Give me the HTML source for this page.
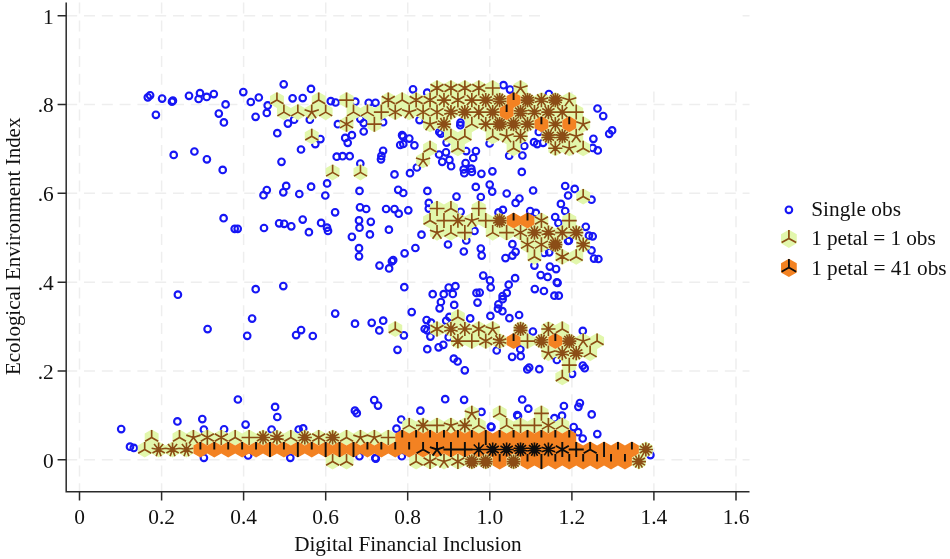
<!DOCTYPE html><html><head><meta charset="utf-8"><title>Sunflower plot</title>
<style>html,body{margin:0;padding:0;background:#fff}svg{display:block}text{font-family:"Liberation Serif",serif;fill:#111}</style></head><body>
<svg width="950" height="559" viewBox="0 0 950 559">
<rect width="950" height="559" fill="#fff"/>
<defs><filter id="soft" x="0" y="0" width="950" height="559" filterUnits="userSpaceOnUse"><feGaussianBlur stdDeviation="0.4"/></filter></defs>
<g filter="url(#soft)">
<path d="M79.5 2.6V491.8M161.6 2.6V491.8M243.6 2.6V491.8M325.7 2.6V491.8M407.7 2.6V491.8M489.8 2.6V491.8M571.9 2.6V491.8M653.9 2.6V491.8M736.0 2.6V491.8M66.2 459.8H749.5M66.2 371.0H749.5M66.2 282.2H749.5M66.2 193.3H749.5M66.2 104.5H749.5M66.2 15.7H749.5" fill="none" stroke="#eeeeee" stroke-width="1.5" stroke-dasharray="11 6.8"/>
<rect x="545" y="0" width="194" height="85" fill="#fff"/>
<g fill="none" stroke="#1414f5" stroke-width="2.1">
<circle cx="402.1" cy="135.2" r="3.3"/>
<circle cx="403.0" cy="136.4" r="3.3"/>
<circle cx="409.3" cy="138.6" r="3.3"/>
<circle cx="400.2" cy="145.0" r="3.3"/>
<circle cx="403.3" cy="144.0" r="3.3"/>
<circle cx="414.4" cy="145.3" r="3.3"/>
<circle cx="439.3" cy="132.0" r="3.3"/>
<circle cx="440.9" cy="133.6" r="3.3"/>
<circle cx="147.8" cy="97.3" r="3.3"/>
<circle cx="150.1" cy="95.3" r="3.3"/>
<circle cx="162.1" cy="98.6" r="3.3"/>
<circle cx="172.0" cy="101.7" r="3.3"/>
<circle cx="172.9" cy="100.7" r="3.3"/>
<circle cx="189.0" cy="95.8" r="3.3"/>
<circle cx="200.0" cy="93.2" r="3.3"/>
<circle cx="198.6" cy="99.0" r="3.3"/>
<circle cx="206.7" cy="96.9" r="3.3"/>
<circle cx="213.8" cy="94.1" r="3.3"/>
<circle cx="225.6" cy="104.4" r="3.3"/>
<circle cx="243.3" cy="92.1" r="3.3"/>
<circle cx="155.9" cy="114.8" r="3.3"/>
<circle cx="218.8" cy="113.6" r="3.3"/>
<circle cx="223.9" cy="122.4" r="3.3"/>
<circle cx="173.7" cy="154.9" r="3.3"/>
<circle cx="194.4" cy="151.5" r="3.3"/>
<circle cx="206.9" cy="159.3" r="3.3"/>
<circle cx="283.7" cy="84.3" r="3.3"/>
<circle cx="311.0" cy="88.9" r="3.3"/>
<circle cx="258.8" cy="97.5" r="3.3"/>
<circle cx="250.8" cy="102.0" r="3.3"/>
<circle cx="267.7" cy="105.4" r="3.3"/>
<circle cx="292.6" cy="98.3" r="3.3"/>
<circle cx="302.7" cy="98.1" r="3.3"/>
<circle cx="266.8" cy="112.9" r="3.3"/>
<circle cx="255.6" cy="116.8" r="3.3"/>
<circle cx="330.8" cy="101.2" r="3.3"/>
<circle cx="335.6" cy="102.5" r="3.3"/>
<circle cx="355.3" cy="101.7" r="3.3"/>
<circle cx="368.7" cy="102.8" r="3.3"/>
<circle cx="375.5" cy="102.8" r="3.3"/>
<circle cx="287.9" cy="123.6" r="3.3"/>
<circle cx="294.1" cy="119.7" r="3.3"/>
<circle cx="309.8" cy="119.7" r="3.3"/>
<circle cx="277.3" cy="133.2" r="3.3"/>
<circle cx="337.9" cy="124.2" r="3.3"/>
<circle cx="360.3" cy="118.8" r="3.3"/>
<circle cx="363.7" cy="123.1" r="3.3"/>
<circle cx="383.1" cy="122.2" r="3.3"/>
<circle cx="363.7" cy="131.5" r="3.3"/>
<circle cx="351.9" cy="135.2" r="3.3"/>
<circle cx="345.2" cy="137.9" r="3.3"/>
<circle cx="347.7" cy="142.8" r="3.3"/>
<circle cx="320.4" cy="139.1" r="3.3"/>
<circle cx="315.3" cy="144.1" r="3.3"/>
<circle cx="301.0" cy="149.5" r="3.3"/>
<circle cx="281.5" cy="161.8" r="3.3"/>
<circle cx="336.7" cy="156.7" r="3.3"/>
<circle cx="342.6" cy="156.2" r="3.3"/>
<circle cx="349.7" cy="156.2" r="3.3"/>
<circle cx="360.3" cy="163.5" r="3.3"/>
<circle cx="383.1" cy="150.8" r="3.3"/>
<circle cx="381.4" cy="155.9" r="3.3"/>
<circle cx="381.0" cy="159.3" r="3.3"/>
<circle cx="419.5" cy="120.1" r="3.3"/>
<circle cx="460.5" cy="122.6" r="3.3"/>
<circle cx="460.3" cy="125.2" r="3.3"/>
<circle cx="446.6" cy="142.6" r="3.3"/>
<circle cx="489.6" cy="143.5" r="3.3"/>
<circle cx="524.3" cy="146.0" r="3.3"/>
<circle cx="466.2" cy="151.1" r="3.3"/>
<circle cx="475.9" cy="151.1" r="3.3"/>
<circle cx="446.0" cy="152.3" r="3.3"/>
<circle cx="439.1" cy="154.5" r="3.3"/>
<circle cx="473.2" cy="158.0" r="3.3"/>
<circle cx="449.4" cy="159.9" r="3.3"/>
<circle cx="442.2" cy="161.8" r="3.3"/>
<circle cx="451.1" cy="166.2" r="3.3"/>
<circle cx="465.6" cy="163.1" r="3.3"/>
<circle cx="463.7" cy="169.4" r="3.3"/>
<circle cx="471.3" cy="168.7" r="3.3"/>
<circle cx="464.3" cy="173.2" r="3.3"/>
<circle cx="471.9" cy="171.9" r="3.3"/>
<circle cx="481.4" cy="173.8" r="3.3"/>
<circle cx="492.4" cy="171.3" r="3.3"/>
<circle cx="509.2" cy="155.7" r="3.3"/>
<circle cx="522.4" cy="155.5" r="3.3"/>
<circle cx="521.8" cy="171.9" r="3.3"/>
<circle cx="416.9" cy="167.5" r="3.3"/>
<circle cx="410.0" cy="173.2" r="3.3"/>
<circle cx="510.0" cy="89.6" r="3.3"/>
<circle cx="548.9" cy="94.0" r="3.3"/>
<circle cx="597.5" cy="108.5" r="3.3"/>
<circle cx="603.2" cy="116.1" r="3.3"/>
<circle cx="612.1" cy="130.4" r="3.3"/>
<circle cx="609.2" cy="133.8" r="3.3"/>
<circle cx="593.4" cy="138.8" r="3.3"/>
<circle cx="538.8" cy="131.9" r="3.3"/>
<circle cx="597.8" cy="150.4" r="3.3"/>
<circle cx="592.7" cy="147.9" r="3.3"/>
<circle cx="534.0" cy="142.2" r="3.3"/>
<circle cx="537.2" cy="144.1" r="3.3"/>
<circle cx="543.1" cy="142.8" r="3.3"/>
<circle cx="413.0" cy="89.3" r="3.3"/>
<circle cx="427.2" cy="92.7" r="3.3"/>
<circle cx="503.5" cy="85.2" r="3.3"/>
<circle cx="222.7" cy="169.9" r="3.3"/>
<circle cx="223.6" cy="218.2" r="3.3"/>
<circle cx="234.7" cy="228.8" r="3.3"/>
<circle cx="237.7" cy="228.8" r="3.3"/>
<circle cx="394.5" cy="174.4" r="3.3"/>
<circle cx="266.8" cy="190.1" r="3.3"/>
<circle cx="263.5" cy="195.2" r="3.3"/>
<circle cx="286.2" cy="185.9" r="3.3"/>
<circle cx="283.3" cy="192.3" r="3.3"/>
<circle cx="299.3" cy="194.0" r="3.3"/>
<circle cx="311.1" cy="186.7" r="3.3"/>
<circle cx="327.1" cy="183.4" r="3.3"/>
<circle cx="325.3" cy="195.5" r="3.3"/>
<circle cx="359.5" cy="190.9" r="3.3"/>
<circle cx="398.2" cy="189.8" r="3.3"/>
<circle cx="403.3" cy="193.0" r="3.3"/>
<circle cx="335.1" cy="212.3" r="3.3"/>
<circle cx="360.0" cy="207.3" r="3.3"/>
<circle cx="366.2" cy="209.0" r="3.3"/>
<circle cx="386.1" cy="209.0" r="3.3"/>
<circle cx="394.5" cy="209.1" r="3.3"/>
<circle cx="398.7" cy="213.7" r="3.3"/>
<circle cx="408.3" cy="210.3" r="3.3"/>
<circle cx="264.0" cy="228.0" r="3.3"/>
<circle cx="279.1" cy="223.3" r="3.3"/>
<circle cx="284.2" cy="223.8" r="3.3"/>
<circle cx="291.3" cy="226.3" r="3.3"/>
<circle cx="302.7" cy="219.6" r="3.3"/>
<circle cx="308.9" cy="232.2" r="3.3"/>
<circle cx="321.1" cy="222.9" r="3.3"/>
<circle cx="327.0" cy="227.7" r="3.3"/>
<circle cx="328.0" cy="230.9" r="3.3"/>
<circle cx="359.0" cy="220.4" r="3.3"/>
<circle cx="359.5" cy="227.7" r="3.3"/>
<circle cx="370.8" cy="221.8" r="3.3"/>
<circle cx="369.9" cy="234.4" r="3.3"/>
<circle cx="388.9" cy="229.7" r="3.3"/>
<circle cx="351.9" cy="236.8" r="3.3"/>
<circle cx="359.0" cy="248.2" r="3.3"/>
<circle cx="359.0" cy="256.3" r="3.3"/>
<circle cx="404.6" cy="253.3" r="3.3"/>
<circle cx="475.8" cy="186.9" r="3.3"/>
<circle cx="489.7" cy="184.6" r="3.3"/>
<circle cx="492.2" cy="191.6" r="3.3"/>
<circle cx="506.7" cy="193.5" r="3.3"/>
<circle cx="480.8" cy="197.0" r="3.3"/>
<circle cx="456.5" cy="196.6" r="3.3"/>
<circle cx="427.4" cy="190.9" r="3.3"/>
<circle cx="428.8" cy="202.9" r="3.3"/>
<circle cx="428.8" cy="208.6" r="3.3"/>
<circle cx="460.6" cy="211.8" r="3.3"/>
<circle cx="502.9" cy="209.9" r="3.3"/>
<circle cx="498.5" cy="212.4" r="3.3"/>
<circle cx="515.6" cy="202.9" r="3.3"/>
<circle cx="519.4" cy="198.5" r="3.3"/>
<circle cx="421.5" cy="234.7" r="3.3"/>
<circle cx="415.4" cy="248.0" r="3.3"/>
<circle cx="448.0" cy="244.5" r="3.3"/>
<circle cx="466.3" cy="240.4" r="3.3"/>
<circle cx="474.5" cy="230.9" r="3.3"/>
<circle cx="463.8" cy="251.5" r="3.3"/>
<circle cx="480.8" cy="248.6" r="3.3"/>
<circle cx="481.7" cy="255.6" r="3.3"/>
<circle cx="505.5" cy="258.1" r="3.3"/>
<circle cx="512.4" cy="244.2" r="3.3"/>
<circle cx="515.6" cy="251.8" r="3.3"/>
<circle cx="512.4" cy="255.6" r="3.3"/>
<circle cx="533.1" cy="190.5" r="3.3"/>
<circle cx="565.2" cy="186.0" r="3.3"/>
<circle cx="574.7" cy="188.9" r="3.3"/>
<circle cx="568.1" cy="195.5" r="3.3"/>
<circle cx="560.9" cy="203.9" r="3.3"/>
<circle cx="565.2" cy="211.1" r="3.3"/>
<circle cx="555.2" cy="217.0" r="3.3"/>
<circle cx="558.4" cy="223.1" r="3.3"/>
<circle cx="591.5" cy="199.7" r="3.3"/>
<circle cx="530.2" cy="211.1" r="3.3"/>
<circle cx="535.9" cy="212.9" r="3.3"/>
<circle cx="585.8" cy="226.8" r="3.3"/>
<circle cx="588.9" cy="235.7" r="3.3"/>
<circle cx="592.7" cy="236.3" r="3.3"/>
<circle cx="568.1" cy="240.9" r="3.3"/>
<circle cx="568.9" cy="240.4" r="3.3"/>
<circle cx="591.5" cy="250.4" r="3.3"/>
<circle cx="594.0" cy="258.6" r="3.3"/>
<circle cx="598.4" cy="259.0" r="3.3"/>
<circle cx="549.2" cy="252.3" r="3.3"/>
<circle cx="544.1" cy="252.9" r="3.3"/>
<circle cx="534.4" cy="265.6" r="3.3"/>
<circle cx="549.8" cy="266.6" r="3.3"/>
<circle cx="556.1" cy="269.1" r="3.3"/>
<circle cx="540.7" cy="275.1" r="3.3"/>
<circle cx="547.6" cy="276.9" r="3.3"/>
<circle cx="515.1" cy="278.2" r="3.3"/>
<circle cx="177.9" cy="294.7" r="3.3"/>
<circle cx="207.6" cy="329.1" r="3.3"/>
<circle cx="252.1" cy="318.6" r="3.3"/>
<circle cx="247.2" cy="335.8" r="3.3"/>
<circle cx="379.5" cy="265.6" r="3.3"/>
<circle cx="389.1" cy="268.4" r="3.3"/>
<circle cx="255.7" cy="289.2" r="3.3"/>
<circle cx="283.3" cy="286.1" r="3.3"/>
<circle cx="296.1" cy="335.1" r="3.3"/>
<circle cx="301.1" cy="330.1" r="3.3"/>
<circle cx="312.8" cy="336.0" r="3.3"/>
<circle cx="335.2" cy="313.6" r="3.3"/>
<circle cx="355.0" cy="323.7" r="3.3"/>
<circle cx="371.7" cy="322.8" r="3.3"/>
<circle cx="383.2" cy="320.7" r="3.3"/>
<circle cx="379.3" cy="330.4" r="3.3"/>
<circle cx="397.5" cy="349.8" r="3.3"/>
<circle cx="391.9" cy="261.3" r="3.3"/>
<circle cx="393.2" cy="260.1" r="3.3"/>
<circle cx="404.3" cy="287.2" r="3.3"/>
<circle cx="483.2" cy="275.6" r="3.3"/>
<circle cx="490.0" cy="280.3" r="3.3"/>
<circle cx="490.7" cy="287.5" r="3.3"/>
<circle cx="508.7" cy="284.7" r="3.3"/>
<circle cx="432.7" cy="294.2" r="3.3"/>
<circle cx="443.7" cy="294.2" r="3.3"/>
<circle cx="448.7" cy="287.6" r="3.3"/>
<circle cx="455.4" cy="286.2" r="3.3"/>
<circle cx="452.8" cy="293.9" r="3.3"/>
<circle cx="440.9" cy="302.0" r="3.3"/>
<circle cx="439.6" cy="308.3" r="3.3"/>
<circle cx="454.2" cy="304.9" r="3.3"/>
<circle cx="411.7" cy="312.1" r="3.3"/>
<circle cx="476.5" cy="292.9" r="3.3"/>
<circle cx="479.7" cy="292.6" r="3.3"/>
<circle cx="477.5" cy="302.6" r="3.3"/>
<circle cx="490.4" cy="315.9" r="3.3"/>
<circle cx="470.2" cy="318.4" r="3.3"/>
<circle cx="426.6" cy="320.1" r="3.3"/>
<circle cx="449.4" cy="316.9" r="3.3"/>
<circle cx="506.8" cy="292.9" r="3.3"/>
<circle cx="498.4" cy="304.3" r="3.3"/>
<circle cx="498.0" cy="308.7" r="3.3"/>
<circle cx="502.4" cy="311.2" r="3.3"/>
<circle cx="509.4" cy="318.2" r="3.3"/>
<circle cx="431.1" cy="322.7" r="3.3"/>
<circle cx="446.2" cy="320.8" r="3.3"/>
<circle cx="424.7" cy="329.0" r="3.3"/>
<circle cx="427.3" cy="330.3" r="3.3"/>
<circle cx="430.4" cy="336.6" r="3.3"/>
<circle cx="403.9" cy="335.3" r="3.3"/>
<circle cx="427.3" cy="349.2" r="3.3"/>
<circle cx="438.6" cy="347.3" r="3.3"/>
<circle cx="443.3" cy="344.8" r="3.3"/>
<circle cx="448.7" cy="337.2" r="3.3"/>
<circle cx="453.8" cy="358.7" r="3.3"/>
<circle cx="457.6" cy="361.5" r="3.3"/>
<circle cx="464.8" cy="370.3" r="3.3"/>
<circle cx="496.7" cy="350.5" r="3.3"/>
<circle cx="557.6" cy="282.8" r="3.3"/>
<circle cx="556.8" cy="282.3" r="3.3"/>
<circle cx="534.8" cy="289.1" r="3.3"/>
<circle cx="543.9" cy="291.0" r="3.3"/>
<circle cx="554.4" cy="295.7" r="3.3"/>
<circle cx="558.8" cy="295.7" r="3.3"/>
<circle cx="502.6" cy="296.1" r="3.3"/>
<circle cx="502.6" cy="299.2" r="3.3"/>
<circle cx="519.1" cy="315.0" r="3.3"/>
<circle cx="532.9" cy="331.5" r="3.3"/>
<circle cx="582.8" cy="330.9" r="3.3"/>
<circle cx="520.3" cy="349.2" r="3.3"/>
<circle cx="512.1" cy="356.8" r="3.3"/>
<circle cx="520.7" cy="356.2" r="3.3"/>
<circle cx="556.9" cy="359.9" r="3.3"/>
<circle cx="527.3" cy="369.4" r="3.3"/>
<circle cx="529.2" cy="367.5" r="3.3"/>
<circle cx="539.3" cy="369.2" r="3.3"/>
<circle cx="582.8" cy="365.6" r="3.3"/>
<circle cx="584.7" cy="368.2" r="3.3"/>
<circle cx="572.1" cy="373.8" r="3.3"/>
<circle cx="522.2" cy="399.5" r="3.3"/>
<circle cx="528.3" cy="408.7" r="3.3"/>
<circle cx="563.9" cy="406.0" r="3.3"/>
<circle cx="579.9" cy="403.1" r="3.3"/>
<circle cx="578.4" cy="406.8" r="3.3"/>
<circle cx="591.7" cy="414.4" r="3.3"/>
<circle cx="517.2" cy="415.1" r="3.3"/>
<circle cx="518.0" cy="415.9" r="3.3"/>
<circle cx="554.4" cy="418.2" r="3.3"/>
<circle cx="562.0" cy="415.7" r="3.3"/>
<circle cx="177.4" cy="421.4" r="3.3"/>
<circle cx="202.3" cy="419.1" r="3.3"/>
<circle cx="203.9" cy="429.6" r="3.3"/>
<circle cx="224.1" cy="429.3" r="3.3"/>
<circle cx="245.6" cy="424.6" r="3.3"/>
<circle cx="203.9" cy="457.8" r="3.3"/>
<circle cx="248.1" cy="455.5" r="3.3"/>
<circle cx="133.8" cy="447.9" r="3.3"/>
<circle cx="130.0" cy="446.7" r="3.3"/>
<circle cx="121.2" cy="429.1" r="3.3"/>
<circle cx="237.9" cy="399.5" r="3.3"/>
<circle cx="275.1" cy="406.9" r="3.3"/>
<circle cx="277.3" cy="417.0" r="3.3"/>
<circle cx="271.6" cy="429.6" r="3.3"/>
<circle cx="303.2" cy="428.4" r="3.3"/>
<circle cx="298.7" cy="429.6" r="3.3"/>
<circle cx="290.3" cy="457.8" r="3.3"/>
<circle cx="354.9" cy="410.7" r="3.3"/>
<circle cx="356.8" cy="413.2" r="3.3"/>
<circle cx="359.4" cy="456.2" r="3.3"/>
<circle cx="378.0" cy="405.6" r="3.3"/>
<circle cx="420.4" cy="410.7" r="3.3"/>
<circle cx="401.2" cy="419.5" r="3.3"/>
<circle cx="396.5" cy="428.7" r="3.3"/>
<circle cx="375.3" cy="458.1" r="3.3"/>
<circle cx="375.8" cy="458.6" r="3.3"/>
<circle cx="401.8" cy="456.2" r="3.3"/>
<circle cx="481.5" cy="411.9" r="3.3"/>
<circle cx="490.9" cy="426.5" r="3.3"/>
<circle cx="491.5" cy="427.1" r="3.3"/>
<circle cx="573.7" cy="427.1" r="3.3"/>
<circle cx="578.1" cy="432.2" r="3.3"/>
<circle cx="582.7" cy="438.5" r="3.3"/>
<circle cx="597.3" cy="434.1" r="3.3"/>
<circle cx="650.4" cy="455.1" r="3.3"/>
<circle cx="374.2" cy="400.1" r="3.3"/>
<circle cx="445.2" cy="399.2" r="3.3"/>
<circle cx="464.1" cy="399.8" r="3.3"/>
</g>
<path d="M437.02,79.96L443.98,83.98L443.98,92.02L437.02,96.04L430.06,92.02L430.06,83.98ZM450.94,79.96L457.90,83.98L457.90,92.02L450.94,96.04L443.98,92.02L443.98,83.98ZM464.86,79.96L471.82,83.98L471.82,92.02L464.86,96.04L457.90,92.02L457.90,83.98ZM478.78,79.96L485.74,83.98L485.74,92.02L478.78,96.04L471.82,92.02L471.82,83.98ZM492.70,79.96L499.66,83.98L499.66,92.02L492.70,96.04L485.74,92.02L485.74,83.98ZM520.54,79.96L527.50,83.98L527.50,92.02L520.54,96.04L513.58,92.02L513.58,83.98ZM276.94,92.01L283.90,96.03L283.90,104.07L276.94,108.09L269.98,104.07L269.98,96.03ZM318.70,92.01L325.66,96.03L325.66,104.07L318.70,108.09L311.74,104.07L311.74,96.03ZM346.54,92.01L353.50,96.03L353.50,104.07L346.54,108.09L339.58,104.07L339.58,96.03ZM388.30,92.01L395.26,96.03L395.26,104.07L388.30,108.09L381.34,104.07L381.34,96.03ZM402.22,92.01L409.18,96.03L409.18,104.07L402.22,108.09L395.26,104.07L395.26,96.03ZM416.14,92.01L423.10,96.03L423.10,104.07L416.14,108.09L409.18,104.07L409.18,96.03ZM430.06,92.01L437.02,96.03L437.02,104.07L430.06,108.09L423.10,104.07L423.10,96.03ZM443.98,92.01L450.94,96.03L450.94,104.07L443.98,108.09L437.02,104.07L437.02,96.03ZM457.90,92.01L464.86,96.03L464.86,104.07L457.90,108.09L450.94,104.07L450.94,96.03ZM471.82,92.01L478.78,96.03L478.78,104.07L471.82,108.09L464.86,104.07L464.86,96.03ZM485.74,92.01L492.70,96.03L492.70,104.07L485.74,108.09L478.78,104.07L478.78,96.03ZM499.66,92.01L506.62,96.03L506.62,104.07L499.66,108.09L492.70,104.07L492.70,96.03ZM527.50,92.01L534.46,96.03L534.46,104.07L527.50,108.09L520.54,104.07L520.54,96.03ZM541.42,92.01L548.38,96.03L548.38,104.07L541.42,108.09L534.46,104.07L534.46,96.03ZM555.34,92.01L562.30,96.03L562.30,104.07L555.34,108.09L548.38,104.07L548.38,96.03ZM569.26,92.01L576.22,96.03L576.22,104.07L569.26,108.09L562.30,104.07L562.30,96.03ZM283.90,104.06L290.86,108.08L290.86,116.12L283.90,120.14L276.94,116.12L276.94,108.08ZM297.82,104.06L304.78,108.08L304.78,116.12L297.82,120.14L290.86,116.12L290.86,108.08ZM311.74,104.06L318.70,108.08L318.70,116.12L311.74,120.14L304.78,116.12L304.78,108.08ZM325.66,104.06L332.62,108.08L332.62,116.12L325.66,120.14L318.70,116.12L318.70,108.08ZM353.50,104.06L360.46,108.08L360.46,116.12L353.50,120.14L346.54,116.12L346.54,108.08ZM367.42,104.06L374.38,108.08L374.38,116.12L367.42,120.14L360.46,116.12L360.46,108.08ZM381.34,104.06L388.30,108.08L388.30,116.12L381.34,120.14L374.38,116.12L374.38,108.08ZM395.26,104.06L402.22,108.08L402.22,116.12L395.26,120.14L388.30,116.12L388.30,108.08ZM409.18,104.06L416.14,108.08L416.14,116.12L409.18,120.14L402.22,116.12L402.22,108.08ZM423.10,104.06L430.06,108.08L430.06,116.12L423.10,120.14L416.14,116.12L416.14,108.08ZM437.02,104.06L443.98,108.08L443.98,116.12L437.02,120.14L430.06,116.12L430.06,108.08ZM450.94,104.06L457.90,108.08L457.90,116.12L450.94,120.14L443.98,116.12L443.98,108.08ZM464.86,104.06L471.82,108.08L471.82,116.12L464.86,120.14L457.90,116.12L457.90,108.08ZM478.78,104.06L485.74,108.08L485.74,116.12L478.78,120.14L471.82,116.12L471.82,108.08ZM492.70,104.06L499.66,108.08L499.66,116.12L492.70,120.14L485.74,116.12L485.74,108.08ZM520.54,104.06L527.50,108.08L527.50,116.12L520.54,120.14L513.58,116.12L513.58,108.08ZM534.46,104.06L541.42,108.08L541.42,116.12L534.46,120.14L527.50,116.12L527.50,108.08ZM548.38,104.06L555.34,108.08L555.34,116.12L548.38,120.14L541.42,116.12L541.42,108.08ZM562.30,104.06L569.26,108.08L569.26,116.12L562.30,120.14L555.34,116.12L555.34,108.08ZM576.22,104.06L583.18,108.08L583.18,116.12L576.22,120.14L569.26,116.12L569.26,108.08ZM346.54,116.11L353.50,120.13L353.50,128.17L346.54,132.19L339.58,128.17L339.58,120.13ZM374.38,116.11L381.34,120.13L381.34,128.17L374.38,132.19L367.42,128.17L367.42,120.13ZM430.06,116.11L437.02,120.13L437.02,128.17L430.06,132.19L423.10,128.17L423.10,120.13ZM443.98,116.11L450.94,120.13L450.94,128.17L443.98,132.19L437.02,128.17L437.02,120.13ZM471.82,116.11L478.78,120.13L478.78,128.17L471.82,132.19L464.86,128.17L464.86,120.13ZM485.74,116.11L492.70,120.13L492.70,128.17L485.74,132.19L478.78,128.17L478.78,120.13ZM499.66,116.11L506.62,120.13L506.62,128.17L499.66,132.19L492.70,128.17L492.70,120.13ZM513.58,116.11L520.54,120.13L520.54,128.17L513.58,132.19L506.62,128.17L506.62,120.13ZM527.50,116.11L534.46,120.13L534.46,128.17L527.50,132.19L520.54,128.17L520.54,120.13ZM555.34,116.11L562.30,120.13L562.30,128.17L555.34,132.19L548.38,128.17L548.38,120.13ZM583.18,116.11L590.14,120.13L590.14,128.17L583.18,132.19L576.22,128.17L576.22,120.13ZM311.74,128.16L318.70,132.18L318.70,140.22L311.74,144.24L304.78,140.22L304.78,132.18ZM450.94,128.16L457.90,132.18L457.90,140.22L450.94,144.24L443.98,140.22L443.98,132.18ZM464.86,128.16L471.82,132.18L471.82,140.22L464.86,144.24L457.90,140.22L457.90,132.18ZM492.70,128.16L499.66,132.18L499.66,140.22L492.70,144.24L485.74,140.22L485.74,132.18ZM506.62,128.16L513.58,132.18L513.58,140.22L506.62,144.24L499.66,140.22L499.66,132.18ZM520.54,128.16L527.50,132.18L527.50,140.22L520.54,144.24L513.58,140.22L513.58,132.18ZM548.38,128.16L555.34,132.18L555.34,140.22L548.38,144.24L541.42,140.22L541.42,132.18ZM562.30,128.16L569.26,132.18L569.26,140.22L562.30,144.24L555.34,140.22L555.34,132.18ZM576.22,128.16L583.18,132.18L583.18,140.22L576.22,144.24L569.26,140.22L569.26,132.18ZM430.06,140.21L437.02,144.23L437.02,152.27L430.06,156.29L423.10,152.27L423.10,144.23ZM457.90,140.21L464.86,144.23L464.86,152.27L457.90,156.29L450.94,152.27L450.94,144.23ZM513.58,140.21L520.54,144.23L520.54,152.27L513.58,156.29L506.62,152.27L506.62,144.23ZM555.34,140.21L562.30,144.23L562.30,152.27L555.34,156.29L548.38,152.27L548.38,144.23ZM569.26,140.21L576.22,144.23L576.22,152.27L569.26,156.29L562.30,152.27L562.30,144.23ZM583.18,140.21L590.14,144.23L590.14,152.27L583.18,156.29L576.22,152.27L576.22,144.23ZM423.10,152.26L430.06,156.28L430.06,164.32L423.10,168.34L416.14,164.32L416.14,156.28ZM332.62,164.31L339.58,168.33L339.58,176.37L332.62,180.39L325.66,176.37L325.66,168.33ZM360.46,164.31L367.42,168.33L367.42,176.37L360.46,180.39L353.50,176.37L353.50,168.33ZM583.18,188.41L590.14,192.43L590.14,200.47L583.18,204.49L576.22,200.47L576.22,192.43ZM437.02,200.46L443.98,204.48L443.98,212.52L437.02,216.54L430.06,212.52L430.06,204.48ZM450.94,200.46L457.90,204.48L457.90,212.52L450.94,216.54L443.98,212.52L443.98,204.48ZM478.78,200.46L485.74,204.48L485.74,212.52L478.78,216.54L471.82,212.52L471.82,204.48ZM430.06,212.51L437.02,216.53L437.02,224.57L430.06,228.59L423.10,224.57L423.10,216.53ZM443.98,212.51L450.94,216.53L450.94,224.57L443.98,228.59L437.02,224.57L437.02,216.53ZM457.90,212.51L464.86,216.53L464.86,224.57L457.90,228.59L450.94,224.57L450.94,216.53ZM471.82,212.51L478.78,216.53L478.78,224.57L471.82,228.59L464.86,224.57L464.86,216.53ZM485.74,212.51L492.70,216.53L492.70,224.57L485.74,228.59L478.78,224.57L478.78,216.53ZM499.66,212.51L506.62,216.53L506.62,224.57L499.66,228.59L492.70,224.57L492.70,216.53ZM541.42,212.51L548.38,216.53L548.38,224.57L541.42,228.59L534.46,224.57L534.46,216.53ZM569.26,212.51L576.22,216.53L576.22,224.57L569.26,228.59L562.30,224.57L562.30,216.53ZM437.02,224.56L443.98,228.58L443.98,236.62L437.02,240.64L430.06,236.62L430.06,228.58ZM450.94,224.56L457.90,228.58L457.90,236.62L450.94,240.64L443.98,236.62L443.98,228.58ZM464.86,224.56L471.82,228.58L471.82,236.62L464.86,240.64L457.90,236.62L457.90,228.58ZM492.70,224.56L499.66,228.58L499.66,236.62L492.70,240.64L485.74,236.62L485.74,228.58ZM506.62,224.56L513.58,228.58L513.58,236.62L506.62,240.64L499.66,236.62L499.66,228.58ZM520.54,224.56L527.50,228.58L527.50,236.62L520.54,240.64L513.58,236.62L513.58,228.58ZM534.46,224.56L541.42,228.58L541.42,236.62L534.46,240.64L527.50,236.62L527.50,228.58ZM548.38,224.56L555.34,228.58L555.34,236.62L548.38,240.64L541.42,236.62L541.42,228.58ZM562.30,224.56L569.26,228.58L569.26,236.62L562.30,240.64L555.34,236.62L555.34,228.58ZM576.22,224.56L583.18,228.58L583.18,236.62L576.22,240.64L569.26,236.62L569.26,228.58ZM527.50,236.61L534.46,240.63L534.46,248.67L527.50,252.69L520.54,248.67L520.54,240.63ZM541.42,236.61L548.38,240.63L548.38,248.67L541.42,252.69L534.46,248.67L534.46,240.63ZM555.34,236.61L562.30,240.63L562.30,248.67L555.34,252.69L548.38,248.67L548.38,240.63ZM583.18,236.61L590.14,240.63L590.14,248.67L583.18,252.69L576.22,248.67L576.22,240.63ZM534.46,248.66L541.42,252.68L541.42,260.72L534.46,264.74L527.50,260.72L527.50,252.68ZM562.30,248.66L569.26,252.68L569.26,260.72L562.30,264.74L555.34,260.72L555.34,252.68ZM576.22,248.66L583.18,252.68L583.18,260.72L576.22,264.74L569.26,260.72L569.26,252.68ZM457.90,308.91L464.86,312.93L464.86,320.97L457.90,324.99L450.94,320.97L450.94,312.93ZM395.26,320.96L402.22,324.98L402.22,333.02L395.26,337.04L388.30,333.02L388.30,324.98ZM437.02,320.96L443.98,324.98L443.98,333.02L437.02,337.04L430.06,333.02L430.06,324.98ZM450.94,320.96L457.90,324.98L457.90,333.02L450.94,337.04L443.98,333.02L443.98,324.98ZM464.86,320.96L471.82,324.98L471.82,333.02L464.86,337.04L457.90,333.02L457.90,324.98ZM478.78,320.96L485.74,324.98L485.74,333.02L478.78,337.04L471.82,333.02L471.82,324.98ZM492.70,320.96L499.66,324.98L499.66,333.02L492.70,337.04L485.74,333.02L485.74,324.98ZM520.54,320.96L527.50,324.98L527.50,333.02L520.54,337.04L513.58,333.02L513.58,324.98ZM548.38,320.96L555.34,324.98L555.34,333.02L548.38,337.04L541.42,333.02L541.42,324.98ZM562.30,320.96L569.26,324.98L569.26,333.02L562.30,337.04L555.34,333.02L555.34,324.98ZM457.90,333.01L464.86,337.03L464.86,345.07L457.90,349.09L450.94,345.07L450.94,337.03ZM471.82,333.01L478.78,337.03L478.78,345.07L471.82,349.09L464.86,345.07L464.86,337.03ZM485.74,333.01L492.70,337.03L492.70,345.07L485.74,349.09L478.78,345.07L478.78,337.03ZM499.66,333.01L506.62,337.03L506.62,345.07L499.66,349.09L492.70,345.07L492.70,337.03ZM527.50,333.01L534.46,337.03L534.46,345.07L527.50,349.09L520.54,345.07L520.54,337.03ZM541.42,333.01L548.38,337.03L548.38,345.07L541.42,349.09L534.46,345.07L534.46,337.03ZM569.26,333.01L576.22,337.03L576.22,345.07L569.26,349.09L562.30,345.07L562.30,337.03ZM583.18,333.01L590.14,337.03L590.14,345.07L583.18,349.09L576.22,345.07L576.22,337.03ZM597.10,333.01L604.06,337.03L604.06,345.07L597.10,349.09L590.14,345.07L590.14,337.03ZM548.38,345.06L555.34,349.08L555.34,357.12L548.38,361.14L541.42,357.12L541.42,349.08ZM562.30,345.06L569.26,349.08L569.26,357.12L562.30,361.14L555.34,357.12L555.34,349.08ZM576.22,345.06L583.18,349.08L583.18,357.12L576.22,361.14L569.26,357.12L569.26,349.08ZM590.14,345.06L597.10,349.08L597.10,357.12L590.14,361.14L583.18,357.12L583.18,349.08ZM569.26,357.11L576.22,361.13L576.22,369.17L569.26,373.19L562.30,369.17L562.30,361.13ZM562.30,369.16L569.26,373.18L569.26,381.22L562.30,385.24L555.34,381.22L555.34,373.18ZM471.82,405.31L478.78,409.33L478.78,417.37L471.82,421.39L464.86,417.37L464.86,409.33ZM499.66,405.31L506.62,409.33L506.62,417.37L499.66,421.39L492.70,417.37L492.70,409.33ZM541.42,405.31L548.38,409.33L548.38,417.37L541.42,421.39L534.46,417.37L534.46,409.33ZM409.18,417.36L416.14,421.38L416.14,429.42L409.18,433.44L402.22,429.42L402.22,421.38ZM423.10,417.36L430.06,421.38L430.06,429.42L423.10,433.44L416.14,429.42L416.14,421.38ZM437.02,417.36L443.98,421.38L443.98,429.42L437.02,433.44L430.06,429.42L430.06,421.38ZM450.94,417.36L457.90,421.38L457.90,429.42L450.94,433.44L443.98,429.42L443.98,421.38ZM464.86,417.36L471.82,421.38L471.82,429.42L464.86,433.44L457.90,429.42L457.90,421.38ZM478.78,417.36L485.74,421.38L485.74,429.42L478.78,433.44L471.82,429.42L471.82,421.38ZM506.62,417.36L513.58,421.38L513.58,429.42L506.62,433.44L499.66,429.42L499.66,421.38ZM520.54,417.36L527.50,421.38L527.50,429.42L520.54,433.44L513.58,429.42L513.58,421.38ZM534.46,417.36L541.42,421.38L541.42,429.42L534.46,433.44L527.50,429.42L527.50,421.38ZM548.38,417.36L555.34,421.38L555.34,429.42L548.38,433.44L541.42,429.42L541.42,421.38ZM562.30,417.36L569.26,421.38L569.26,429.42L562.30,433.44L555.34,429.42L555.34,421.38ZM151.66,429.41L158.62,433.43L158.62,441.47L151.66,445.49L144.70,441.47L144.70,433.43ZM179.50,429.41L186.46,433.43L186.46,441.47L179.50,445.49L172.54,441.47L172.54,433.43ZM193.42,429.41L200.38,433.43L200.38,441.47L193.42,445.49L186.46,441.47L186.46,433.43ZM207.34,429.41L214.30,433.43L214.30,441.47L207.34,445.49L200.38,441.47L200.38,433.43ZM221.26,429.41L228.22,433.43L228.22,441.47L221.26,445.49L214.30,441.47L214.30,433.43ZM235.18,429.41L242.14,433.43L242.14,441.47L235.18,445.49L228.22,441.47L228.22,433.43ZM249.10,429.41L256.06,433.43L256.06,441.47L249.10,445.49L242.14,441.47L242.14,433.43ZM263.02,429.41L269.98,433.43L269.98,441.47L263.02,445.49L256.06,441.47L256.06,433.43ZM276.94,429.41L283.90,433.43L283.90,441.47L276.94,445.49L269.98,441.47L269.98,433.43ZM290.86,429.41L297.82,433.43L297.82,441.47L290.86,445.49L283.90,441.47L283.90,433.43ZM304.78,429.41L311.74,433.43L311.74,441.47L304.78,445.49L297.82,441.47L297.82,433.43ZM318.70,429.41L325.66,433.43L325.66,441.47L318.70,445.49L311.74,441.47L311.74,433.43ZM332.62,429.41L339.58,433.43L339.58,441.47L332.62,445.49L325.66,441.47L325.66,433.43ZM346.54,429.41L353.50,433.43L353.50,441.47L346.54,445.49L339.58,441.47L339.58,433.43ZM360.46,429.41L367.42,433.43L367.42,441.47L360.46,445.49L353.50,441.47L353.50,433.43ZM374.38,429.41L381.34,433.43L381.34,441.47L374.38,445.49L367.42,441.47L367.42,433.43ZM388.30,429.41L395.26,433.43L395.26,441.47L388.30,445.49L381.34,441.47L381.34,433.43ZM144.70,441.46L151.66,445.48L151.66,453.52L144.70,457.54L137.74,453.52L137.74,445.48ZM158.62,441.46L165.58,445.48L165.58,453.52L158.62,457.54L151.66,453.52L151.66,445.48ZM172.54,441.46L179.50,445.48L179.50,453.52L172.54,457.54L165.58,453.52L165.58,445.48ZM186.46,441.46L193.42,445.48L193.42,453.52L186.46,457.54L179.50,453.52L179.50,445.48ZM645.82,441.46L652.78,445.48L652.78,453.52L645.82,457.54L638.86,453.52L638.86,445.48ZM332.62,453.51L339.58,457.53L339.58,465.57L332.62,469.59L325.66,465.57L325.66,457.53ZM346.54,453.51L353.50,457.53L353.50,465.57L346.54,469.59L339.58,465.57L339.58,457.53ZM416.14,453.51L423.10,457.53L423.10,465.57L416.14,469.59L409.18,465.57L409.18,457.53ZM430.06,453.51L437.02,457.53L437.02,465.57L430.06,469.59L423.10,465.57L423.10,457.53ZM443.98,453.51L450.94,457.53L450.94,465.57L443.98,469.59L437.02,465.57L437.02,457.53ZM457.90,453.51L464.86,457.53L464.86,465.57L457.90,469.59L450.94,465.57L450.94,457.53ZM471.82,453.51L478.78,457.53L478.78,465.57L471.82,469.59L464.86,465.57L464.86,457.53ZM485.74,453.51L492.70,457.53L492.70,465.57L485.74,469.59L478.78,465.57L478.78,457.53ZM513.58,453.51L520.54,457.53L520.54,465.57L513.58,469.59L506.62,465.57L506.62,457.53ZM638.86,453.51L645.82,457.53L645.82,465.57L638.86,469.59L631.90,465.57L631.90,457.53Z" fill="#e2f7ac"/>
<path d="M437.02 88.00L437.02 80.50M437.02 88.00L443.52 84.25M437.02 88.00L443.52 91.75M437.02 88.00L437.02 95.50M437.02 88.00L430.52 91.75M437.02 88.00L430.52 84.25M450.94 88.00L450.94 80.50M450.94 88.00L457.44 84.25M450.94 88.00L457.44 91.75M450.94 88.00L450.94 95.50M450.94 88.00L444.44 91.75M450.94 88.00L444.44 84.25M464.86 88.00L464.86 80.50M464.86 88.00L471.36 84.25M464.86 88.00L471.36 91.75M464.86 88.00L464.86 95.50M464.86 88.00L458.36 91.75M464.86 88.00L458.36 84.25M478.78 88.00L478.78 80.50M478.78 88.00L485.28 84.25M478.78 88.00L485.28 91.75M478.78 88.00L478.78 95.50M478.78 88.00L472.28 91.75M478.78 88.00L472.28 84.25M492.70 88.00L492.70 80.50M492.70 88.00L500.20 88.00M492.70 88.00L492.70 95.50M492.70 88.00L485.20 88.00M520.54 88.00L520.54 80.50M520.54 88.00L527.67 85.68M520.54 88.00L524.95 94.07M520.54 88.00L516.13 94.07M520.54 88.00L513.41 85.68M276.94 100.05L276.94 92.55M276.94 100.05L283.44 103.80M276.94 100.05L270.44 103.80M318.70 100.05L318.70 92.55M318.70 100.05L325.20 103.80M318.70 100.05L312.20 103.80M346.54 100.05L346.54 92.55M346.54 100.05L354.04 100.05M346.54 100.05L346.54 107.55M346.54 100.05L339.04 100.05M388.30 100.05L388.30 92.55M388.30 100.05L394.80 96.30M388.30 100.05L394.80 103.80M388.30 100.05L388.30 107.55M388.30 100.05L381.80 103.80M388.30 100.05L381.80 96.30M402.22 100.05L402.22 92.55M402.22 100.05L408.72 103.80M402.22 100.05L395.72 103.80M416.14 100.05L416.14 92.55M416.14 100.05L422.64 96.30M416.14 100.05L422.64 103.80M416.14 100.05L416.14 107.55M416.14 100.05L409.64 103.80M416.14 100.05L409.64 96.30M430.06 100.05L430.06 92.55M430.06 100.05L436.56 96.30M430.06 100.05L436.56 103.80M430.06 100.05L430.06 107.55M430.06 100.05L423.56 103.80M430.06 100.05L423.56 96.30M443.98 100.05L443.98 92.95M443.98 100.05L449.00 95.03M443.98 100.05L451.08 100.05M443.98 100.05L449.00 105.07M443.98 100.05L443.98 107.15M443.98 100.05L438.96 105.07M443.98 100.05L436.88 100.05M443.98 100.05L438.96 95.03M457.90 100.05L457.90 92.55M457.90 100.05L464.40 96.30M457.90 100.05L464.40 103.80M457.90 100.05L457.90 107.55M457.90 100.05L451.40 103.80M457.90 100.05L451.40 96.30M471.82 100.05L471.82 92.95M471.82 100.05L476.84 95.03M471.82 100.05L478.92 100.05M471.82 100.05L476.84 105.07M471.82 100.05L471.82 107.15M471.82 100.05L466.80 105.07M471.82 100.05L464.72 100.05M471.82 100.05L466.80 95.03M485.74 100.05L485.74 92.95M485.74 100.05L489.29 93.90M485.74 100.05L491.89 96.50M485.74 100.05L492.84 100.05M485.74 100.05L491.89 103.60M485.74 100.05L489.29 106.20M485.74 100.05L485.74 107.15M485.74 100.05L482.19 106.20M485.74 100.05L479.59 103.60M485.74 100.05L478.64 100.05M485.74 100.05L479.59 96.50M485.74 100.05L482.19 93.90M499.66 100.05L499.66 92.95M499.66 100.05L502.74 93.65M499.66 100.05L505.21 95.62M499.66 100.05L506.58 98.47M499.66 100.05L506.58 101.63M499.66 100.05L505.21 104.48M499.66 100.05L502.74 106.45M499.66 100.05L499.66 107.15M499.66 100.05L496.58 106.45M499.66 100.05L494.11 104.48M499.66 100.05L492.74 101.63M499.66 100.05L492.74 98.47M499.66 100.05L494.11 95.62M499.66 100.05L496.58 93.65M527.50 100.05L527.50 92.95M527.50 100.05L530.22 93.49M527.50 100.05L532.52 95.03M527.50 100.05L534.06 97.33M527.50 100.05L534.60 100.05M527.50 100.05L534.06 102.77M527.50 100.05L532.52 105.07M527.50 100.05L530.22 106.61M527.50 100.05L527.50 107.15M527.50 100.05L524.78 106.61M527.50 100.05L522.48 105.07M527.50 100.05L520.94 102.77M527.50 100.05L520.40 100.05M527.50 100.05L520.94 97.33M527.50 100.05L522.48 95.03M527.50 100.05L524.78 93.49M541.42 100.05L541.42 92.95M541.42 100.05L545.59 94.31M541.42 100.05L548.17 97.86M541.42 100.05L548.17 102.24M541.42 100.05L545.59 105.79M541.42 100.05L541.42 107.15M541.42 100.05L537.25 105.79M541.42 100.05L534.67 102.24M541.42 100.05L534.67 97.86M541.42 100.05L537.25 94.31M555.34 100.05L555.34 92.95M555.34 100.05L558.06 93.49M555.34 100.05L560.36 95.03M555.34 100.05L561.90 97.33M555.34 100.05L562.44 100.05M555.34 100.05L561.90 102.77M555.34 100.05L560.36 105.07M555.34 100.05L558.06 106.61M555.34 100.05L555.34 107.15M555.34 100.05L552.62 106.61M555.34 100.05L550.32 105.07M555.34 100.05L548.78 102.77M555.34 100.05L548.24 100.05M555.34 100.05L548.78 97.33M555.34 100.05L550.32 95.03M555.34 100.05L552.62 93.49M569.26 100.05L569.26 92.55M569.26 100.05L576.39 97.73M569.26 100.05L573.67 106.12M569.26 100.05L564.85 106.12M569.26 100.05L562.13 97.73M283.90 112.10L283.90 104.60M283.90 112.10L290.40 115.85M283.90 112.10L277.40 115.85M297.82 112.10L297.82 104.60M297.82 112.10L304.32 115.85M297.82 112.10L291.32 115.85M311.74 112.10L311.74 104.60M311.74 112.10L318.87 109.78M311.74 112.10L316.15 118.17M311.74 112.10L307.33 118.17M311.74 112.10L304.61 109.78M325.66 112.10L325.66 104.60M325.66 112.10L332.16 115.85M325.66 112.10L319.16 115.85M353.50 112.10L353.50 104.60M353.50 112.10L360.00 115.85M353.50 112.10L347.00 115.85M367.42 112.10L367.42 104.60M367.42 112.10L373.92 115.85M367.42 112.10L360.92 115.85M381.34 112.10L381.34 104.60M381.34 112.10L388.84 112.10M381.34 112.10L381.34 119.60M381.34 112.10L373.84 112.10M395.26 112.10L395.26 104.60M395.26 112.10L401.76 108.35M395.26 112.10L401.76 115.85M395.26 112.10L395.26 119.60M395.26 112.10L388.76 115.85M395.26 112.10L388.76 108.35M409.18 112.10L409.18 104.60M409.18 112.10L416.31 109.78M409.18 112.10L413.59 118.17M409.18 112.10L404.77 118.17M409.18 112.10L402.05 109.78M423.10 112.10L423.10 104.60M423.10 112.10L429.60 108.35M423.10 112.10L429.60 115.85M423.10 112.10L423.10 119.60M423.10 112.10L416.60 115.85M423.10 112.10L416.60 108.35M437.02 112.10L437.02 104.60M437.02 112.10L443.52 108.35M437.02 112.10L443.52 115.85M437.02 112.10L437.02 119.60M437.02 112.10L430.52 115.85M437.02 112.10L430.52 108.35M450.94 112.10L450.94 105.00M450.94 112.10L455.11 106.36M450.94 112.10L457.69 109.91M450.94 112.10L457.69 114.29M450.94 112.10L455.11 117.84M450.94 112.10L450.94 119.20M450.94 112.10L446.77 117.84M450.94 112.10L444.19 114.29M450.94 112.10L444.19 109.91M450.94 112.10L446.77 106.36M464.86 112.10L464.86 105.00M464.86 112.10L468.41 105.95M464.86 112.10L471.01 108.55M464.86 112.10L471.96 112.10M464.86 112.10L471.01 115.65M464.86 112.10L468.41 118.25M464.86 112.10L464.86 119.20M464.86 112.10L461.31 118.25M464.86 112.10L458.71 115.65M464.86 112.10L457.76 112.10M464.86 112.10L458.71 108.55M464.86 112.10L461.31 105.95M478.78 112.10L478.78 105.00M478.78 112.10L483.80 107.08M478.78 112.10L485.88 112.10M478.78 112.10L483.80 117.12M478.78 112.10L478.78 119.20M478.78 112.10L473.76 117.12M478.78 112.10L471.68 112.10M478.78 112.10L473.76 107.08M492.70 112.10L492.70 105.00M492.70 112.10L496.25 105.95M492.70 112.10L498.85 108.55M492.70 112.10L499.80 112.10M492.70 112.10L498.85 115.65M492.70 112.10L496.25 118.25M492.70 112.10L492.70 119.20M492.70 112.10L489.15 118.25M492.70 112.10L486.55 115.65M492.70 112.10L485.60 112.10M492.70 112.10L486.55 108.55M492.70 112.10L489.15 105.95M520.54 112.10L520.54 105.00M520.54 112.10L523.62 105.70M520.54 112.10L526.09 107.67M520.54 112.10L527.46 110.52M520.54 112.10L527.46 113.68M520.54 112.10L526.09 116.53M520.54 112.10L523.62 118.50M520.54 112.10L520.54 119.20M520.54 112.10L517.46 118.50M520.54 112.10L514.99 116.53M520.54 112.10L513.62 113.68M520.54 112.10L513.62 110.52M520.54 112.10L514.99 107.67M520.54 112.10L517.46 105.70M534.46 112.10L534.46 105.00M534.46 112.10L538.63 106.36M534.46 112.10L541.21 109.91M534.46 112.10L541.21 114.29M534.46 112.10L538.63 117.84M534.46 112.10L534.46 119.20M534.46 112.10L530.29 117.84M534.46 112.10L527.71 114.29M534.46 112.10L527.71 109.91M534.46 112.10L530.29 106.36M548.38 112.10L548.38 105.00M548.38 112.10L551.93 105.95M548.38 112.10L554.53 108.55M548.38 112.10L555.48 112.10M548.38 112.10L554.53 115.65M548.38 112.10L551.93 118.25M548.38 112.10L548.38 119.20M548.38 112.10L544.83 118.25M548.38 112.10L542.23 115.65M548.38 112.10L541.28 112.10M548.38 112.10L542.23 108.55M548.38 112.10L544.83 105.95M562.30 112.10L562.30 105.00M562.30 112.10L567.32 107.08M562.30 112.10L569.40 112.10M562.30 112.10L567.32 117.12M562.30 112.10L562.30 119.20M562.30 112.10L557.28 117.12M562.30 112.10L555.20 112.10M562.30 112.10L557.28 107.08M576.22 112.10L576.22 104.60M576.22 112.10L583.72 112.10M576.22 112.10L576.22 119.60M576.22 112.10L568.72 112.10M346.54 124.15L346.54 116.65M346.54 124.15L353.04 120.40M346.54 124.15L353.04 127.90M346.54 124.15L346.54 131.65M346.54 124.15L340.04 127.90M346.54 124.15L340.04 120.40M374.38 124.15L374.38 116.65M374.38 124.15L381.88 124.15M374.38 124.15L374.38 131.65M374.38 124.15L366.88 124.15M430.06 124.15L430.06 116.65M430.06 124.15L437.19 121.83M430.06 124.15L434.47 130.22M430.06 124.15L425.65 130.22M430.06 124.15L422.93 121.83M443.98 124.15L443.98 117.05M443.98 124.15L447.53 118.00M443.98 124.15L450.13 120.60M443.98 124.15L451.08 124.15M443.98 124.15L450.13 127.70M443.98 124.15L447.53 130.30M443.98 124.15L443.98 131.25M443.98 124.15L440.43 130.30M443.98 124.15L437.83 127.70M443.98 124.15L436.88 124.15M443.98 124.15L437.83 120.60M443.98 124.15L440.43 118.00M471.82 124.15L471.82 116.65M471.82 124.15L478.32 127.90M471.82 124.15L465.32 127.90M485.74 124.15L485.74 117.05M485.74 124.15L490.76 119.13M485.74 124.15L492.84 124.15M485.74 124.15L490.76 129.17M485.74 124.15L485.74 131.25M485.74 124.15L480.72 129.17M485.74 124.15L478.64 124.15M485.74 124.15L480.72 119.13M499.66 124.15L499.66 117.05M499.66 124.15L502.38 117.59M499.66 124.15L504.68 119.13M499.66 124.15L506.22 121.43M499.66 124.15L506.76 124.15M499.66 124.15L506.22 126.87M499.66 124.15L504.68 129.17M499.66 124.15L502.38 130.71M499.66 124.15L499.66 131.25M499.66 124.15L496.94 130.71M499.66 124.15L494.64 129.17M499.66 124.15L493.10 126.87M499.66 124.15L492.56 124.15M499.66 124.15L493.10 121.43M499.66 124.15L494.64 119.13M499.66 124.15L496.94 117.59M513.58 124.15L513.58 117.05M513.58 124.15L516.66 117.75M513.58 124.15L519.13 119.72M513.58 124.15L520.50 122.57M513.58 124.15L520.50 125.73M513.58 124.15L519.13 128.58M513.58 124.15L516.66 130.55M513.58 124.15L513.58 131.25M513.58 124.15L510.50 130.55M513.58 124.15L508.03 128.58M513.58 124.15L506.66 125.73M513.58 124.15L506.66 122.57M513.58 124.15L508.03 119.72M513.58 124.15L510.50 117.75M527.50 124.15L527.50 117.05M527.50 124.15L531.05 118.00M527.50 124.15L533.65 120.60M527.50 124.15L534.60 124.15M527.50 124.15L533.65 127.70M527.50 124.15L531.05 130.30M527.50 124.15L527.50 131.25M527.50 124.15L523.95 130.30M527.50 124.15L521.35 127.70M527.50 124.15L520.40 124.15M527.50 124.15L521.35 120.60M527.50 124.15L523.95 118.00M555.34 124.15L555.34 117.05M555.34 124.15L559.51 118.41M555.34 124.15L562.09 121.96M555.34 124.15L562.09 126.34M555.34 124.15L559.51 129.89M555.34 124.15L555.34 131.25M555.34 124.15L551.17 129.89M555.34 124.15L548.59 126.34M555.34 124.15L548.59 121.96M555.34 124.15L551.17 118.41M583.18 124.15L583.18 116.65M583.18 124.15L590.31 121.83M583.18 124.15L587.59 130.22M583.18 124.15L578.77 130.22M583.18 124.15L576.05 121.83M311.74 136.20L311.74 128.70M311.74 136.20L318.24 139.95M311.74 136.20L305.24 139.95M450.94 136.20L450.94 128.70M450.94 136.20L457.44 139.95M450.94 136.20L444.44 139.95M464.86 136.20L464.86 128.70M464.86 136.20L471.36 139.95M464.86 136.20L458.36 139.95M492.70 136.20L492.70 128.70M492.70 136.20L499.20 139.95M492.70 136.20L486.20 139.95M506.62 136.20L506.62 128.70M506.62 136.20L513.75 133.88M506.62 136.20L511.03 142.27M506.62 136.20L502.21 142.27M506.62 136.20L499.49 133.88M520.54 136.20L520.54 129.10M520.54 136.20L525.56 131.18M520.54 136.20L527.64 136.20M520.54 136.20L525.56 141.22M520.54 136.20L520.54 143.30M520.54 136.20L515.52 141.22M520.54 136.20L513.44 136.20M520.54 136.20L515.52 131.18M548.38 136.20L548.38 129.10M548.38 136.20L551.46 129.80M548.38 136.20L553.93 131.77M548.38 136.20L555.30 134.62M548.38 136.20L555.30 137.78M548.38 136.20L553.93 140.63M548.38 136.20L551.46 142.60M548.38 136.20L548.38 143.30M548.38 136.20L545.30 142.60M548.38 136.20L542.83 140.63M548.38 136.20L541.46 137.78M548.38 136.20L541.46 134.62M548.38 136.20L542.83 131.77M548.38 136.20L545.30 129.80M562.30 136.20L562.30 129.10M562.30 136.20L565.38 129.80M562.30 136.20L567.85 131.77M562.30 136.20L569.22 134.62M562.30 136.20L569.22 137.78M562.30 136.20L567.85 140.63M562.30 136.20L565.38 142.60M562.30 136.20L562.30 143.30M562.30 136.20L559.22 142.60M562.30 136.20L556.75 140.63M562.30 136.20L555.38 137.78M562.30 136.20L555.38 134.62M562.30 136.20L556.75 131.77M562.30 136.20L559.22 129.80M576.22 136.20L576.22 128.70M576.22 136.20L583.35 133.88M576.22 136.20L580.63 142.27M576.22 136.20L571.81 142.27M576.22 136.20L569.09 133.88M430.06 148.25L430.06 140.75M430.06 148.25L436.56 152.00M430.06 148.25L423.56 152.00M457.90 148.25L457.90 140.75M457.90 148.25L464.40 152.00M457.90 148.25L451.40 152.00M513.58 148.25L513.58 140.75M513.58 148.25L520.08 152.00M513.58 148.25L507.08 152.00M555.34 148.25L555.34 141.15M555.34 148.25L560.36 143.23M555.34 148.25L562.44 148.25M555.34 148.25L560.36 153.27M555.34 148.25L555.34 155.35M555.34 148.25L550.32 153.27M555.34 148.25L548.24 148.25M555.34 148.25L550.32 143.23M569.26 148.25L569.26 140.75M569.26 148.25L576.39 145.93M569.26 148.25L573.67 154.32M569.26 148.25L564.85 154.32M569.26 148.25L562.13 145.93M583.18 148.25L583.18 140.75M583.18 148.25L589.68 152.00M583.18 148.25L576.68 152.00M423.10 160.30L423.10 152.80M423.10 160.30L430.23 157.98M423.10 160.30L427.51 166.37M423.10 160.30L418.69 166.37M423.10 160.30L415.97 157.98M332.62 172.35L332.62 164.85M332.62 172.35L339.12 176.10M332.62 172.35L326.12 176.10M360.46 172.35L360.46 164.85M360.46 172.35L366.96 176.10M360.46 172.35L353.96 176.10M583.18 196.45L583.18 188.95M583.18 196.45L589.68 200.20M583.18 196.45L576.68 200.20M437.02 208.50L437.02 201.00M437.02 208.50L444.52 208.50M437.02 208.50L437.02 216.00M437.02 208.50L429.52 208.50M450.94 208.50L450.94 201.00M450.94 208.50L457.44 212.25M450.94 208.50L444.44 212.25M478.78 208.50L478.78 201.00M478.78 208.50L486.28 208.50M478.78 208.50L478.78 216.00M478.78 208.50L471.28 208.50M430.06 220.55L430.06 213.05M430.06 220.55L436.56 224.30M430.06 220.55L423.56 224.30M443.98 220.55L443.98 213.05M443.98 220.55L451.48 220.55M443.98 220.55L443.98 228.05M443.98 220.55L436.48 220.55M457.90 220.55L457.90 213.45M457.90 220.55L462.92 215.53M457.90 220.55L465.00 220.55M457.90 220.55L462.92 225.57M457.90 220.55L457.90 227.65M457.90 220.55L452.88 225.57M457.90 220.55L450.80 220.55M457.90 220.55L452.88 215.53M471.82 220.55L471.82 213.05M471.82 220.55L478.95 218.23M471.82 220.55L476.23 226.62M471.82 220.55L467.41 226.62M471.82 220.55L464.69 218.23M485.74 220.55L485.74 213.05M485.74 220.55L493.24 220.55M485.74 220.55L485.74 228.05M485.74 220.55L478.24 220.55M499.66 220.55L499.66 213.45M499.66 220.55L502.38 213.99M499.66 220.55L504.68 215.53M499.66 220.55L506.22 217.83M499.66 220.55L506.76 220.55M499.66 220.55L506.22 223.27M499.66 220.55L504.68 225.57M499.66 220.55L502.38 227.11M499.66 220.55L499.66 227.65M499.66 220.55L496.94 227.11M499.66 220.55L494.64 225.57M499.66 220.55L493.10 223.27M499.66 220.55L492.56 220.55M499.66 220.55L493.10 217.83M499.66 220.55L494.64 215.53M499.66 220.55L496.94 213.99M541.42 220.55L541.42 213.05M541.42 220.55L547.92 216.80M541.42 220.55L547.92 224.30M541.42 220.55L541.42 228.05M541.42 220.55L534.92 224.30M541.42 220.55L534.92 216.80M569.26 220.55L569.26 213.05M569.26 220.55L576.76 220.55M569.26 220.55L569.26 228.05M569.26 220.55L561.76 220.55M437.02 232.60L437.02 225.10M437.02 232.60L444.15 230.28M437.02 232.60L441.43 238.67M437.02 232.60L432.61 238.67M437.02 232.60L429.89 230.28M450.94 232.60L450.94 225.10M450.94 232.60L457.44 236.35M450.94 232.60L444.44 236.35M464.86 232.60L464.86 225.10M464.86 232.60L472.36 232.60M464.86 232.60L464.86 240.10M464.86 232.60L457.36 232.60M492.70 232.60L492.70 225.10M492.70 232.60L499.20 236.35M492.70 232.60L486.20 236.35M506.62 232.60L506.62 225.10M506.62 232.60L514.12 232.60M506.62 232.60L506.62 240.10M506.62 232.60L499.12 232.60M520.54 232.60L520.54 225.10M520.54 232.60L527.04 228.85M520.54 232.60L527.04 236.35M520.54 232.60L520.54 240.10M520.54 232.60L514.04 236.35M520.54 232.60L514.04 228.85M534.46 232.60L534.46 225.50M534.46 232.60L538.01 226.45M534.46 232.60L540.61 229.05M534.46 232.60L541.56 232.60M534.46 232.60L540.61 236.15M534.46 232.60L538.01 238.75M534.46 232.60L534.46 239.70M534.46 232.60L530.91 238.75M534.46 232.60L528.31 236.15M534.46 232.60L527.36 232.60M534.46 232.60L528.31 229.05M534.46 232.60L530.91 226.45M548.38 232.60L548.38 225.50M548.38 232.60L552.55 226.86M548.38 232.60L555.13 230.41M548.38 232.60L555.13 234.79M548.38 232.60L552.55 238.34M548.38 232.60L548.38 239.70M548.38 232.60L544.21 238.34M548.38 232.60L541.63 234.79M548.38 232.60L541.63 230.41M548.38 232.60L544.21 226.86M562.30 232.60L562.30 225.50M562.30 232.60L567.32 227.58M562.30 232.60L569.40 232.60M562.30 232.60L567.32 237.62M562.30 232.60L562.30 239.70M562.30 232.60L557.28 237.62M562.30 232.60L555.20 232.60M562.30 232.60L557.28 227.58M576.22 232.60L576.22 225.50M576.22 232.60L579.77 226.45M576.22 232.60L582.37 229.05M576.22 232.60L583.32 232.60M576.22 232.60L582.37 236.15M576.22 232.60L579.77 238.75M576.22 232.60L576.22 239.70M576.22 232.60L572.67 238.75M576.22 232.60L570.07 236.15M576.22 232.60L569.12 232.60M576.22 232.60L570.07 229.05M576.22 232.60L572.67 226.45M527.50 244.65L527.50 237.15M527.50 244.65L534.00 240.90M527.50 244.65L534.00 248.40M527.50 244.65L527.50 252.15M527.50 244.65L521.00 248.40M527.50 244.65L521.00 240.90M541.42 244.65L541.42 237.15M541.42 244.65L547.92 240.90M541.42 244.65L547.92 248.40M541.42 244.65L541.42 252.15M541.42 244.65L534.92 248.40M541.42 244.65L534.92 240.90M555.34 244.65L555.34 237.55M555.34 244.65L558.06 238.09M555.34 244.65L560.36 239.63M555.34 244.65L561.90 241.93M555.34 244.65L562.44 244.65M555.34 244.65L561.90 247.37M555.34 244.65L560.36 249.67M555.34 244.65L558.06 251.21M555.34 244.65L555.34 251.75M555.34 244.65L552.62 251.21M555.34 244.65L550.32 249.67M555.34 244.65L548.78 247.37M555.34 244.65L548.24 244.65M555.34 244.65L548.78 241.93M555.34 244.65L550.32 239.63M555.34 244.65L552.62 238.09M583.18 244.65L583.18 237.55M583.18 244.65L587.35 238.91M583.18 244.65L589.93 242.46M583.18 244.65L589.93 246.84M583.18 244.65L587.35 250.39M583.18 244.65L583.18 251.75M583.18 244.65L579.01 250.39M583.18 244.65L576.43 246.84M583.18 244.65L576.43 242.46M583.18 244.65L579.01 238.91M534.46 256.70L534.46 249.20M534.46 256.70L540.96 260.45M534.46 256.70L527.96 260.45M562.30 256.70L562.30 249.20M562.30 256.70L568.80 252.95M562.30 256.70L568.80 260.45M562.30 256.70L562.30 264.20M562.30 256.70L555.80 260.45M562.30 256.70L555.80 252.95M576.22 256.70L576.22 249.20M576.22 256.70L582.72 260.45M576.22 256.70L569.72 260.45M457.90 316.95L457.90 309.45M457.90 316.95L464.40 320.70M457.90 316.95L451.40 320.70M395.26 329.00L395.26 321.50M395.26 329.00L401.76 332.75M395.26 329.00L388.76 332.75M437.02 329.00L437.02 321.50M437.02 329.00L443.52 325.25M437.02 329.00L443.52 332.75M437.02 329.00L437.02 336.50M437.02 329.00L430.52 332.75M437.02 329.00L430.52 325.25M450.94 329.00L450.94 321.90M450.94 329.00L455.11 323.26M450.94 329.00L457.69 326.81M450.94 329.00L457.69 331.19M450.94 329.00L455.11 334.74M450.94 329.00L450.94 336.10M450.94 329.00L446.77 334.74M450.94 329.00L444.19 331.19M450.94 329.00L444.19 326.81M450.94 329.00L446.77 323.26M464.86 329.00L464.86 321.90M464.86 329.00L469.88 323.98M464.86 329.00L471.96 329.00M464.86 329.00L469.88 334.02M464.86 329.00L464.86 336.10M464.86 329.00L459.84 334.02M464.86 329.00L457.76 329.00M464.86 329.00L459.84 323.98M478.78 329.00L478.78 321.50M478.78 329.00L485.28 325.25M478.78 329.00L485.28 332.75M478.78 329.00L478.78 336.50M478.78 329.00L472.28 332.75M478.78 329.00L472.28 325.25M492.70 329.00L492.70 321.50M492.70 329.00L499.83 326.68M492.70 329.00L497.11 335.07M492.70 329.00L488.29 335.07M492.70 329.00L485.57 326.68M520.54 329.00L520.54 321.90M520.54 329.00L523.62 322.60M520.54 329.00L526.09 324.57M520.54 329.00L527.46 327.42M520.54 329.00L527.46 330.58M520.54 329.00L526.09 333.43M520.54 329.00L523.62 335.40M520.54 329.00L520.54 336.10M520.54 329.00L517.46 335.40M520.54 329.00L514.99 333.43M520.54 329.00L513.62 330.58M520.54 329.00L513.62 327.42M520.54 329.00L514.99 324.57M520.54 329.00L517.46 322.60M548.38 329.00L548.38 321.90M548.38 329.00L553.40 323.98M548.38 329.00L555.48 329.00M548.38 329.00L553.40 334.02M548.38 329.00L548.38 336.10M548.38 329.00L543.36 334.02M548.38 329.00L541.28 329.00M548.38 329.00L543.36 323.98M562.30 329.00L562.30 321.50M562.30 329.00L568.80 332.75M562.30 329.00L555.80 332.75M457.90 341.05L457.90 333.95M457.90 341.05L462.92 336.03M457.90 341.05L465.00 341.05M457.90 341.05L462.92 346.07M457.90 341.05L457.90 348.15M457.90 341.05L452.88 346.07M457.90 341.05L450.80 341.05M457.90 341.05L452.88 336.03M471.82 341.05L471.82 333.55M471.82 341.05L479.32 341.05M471.82 341.05L471.82 348.55M471.82 341.05L464.32 341.05M485.74 341.05L485.74 333.55M485.74 341.05L492.24 337.30M485.74 341.05L492.24 344.80M485.74 341.05L485.74 348.55M485.74 341.05L479.24 344.80M485.74 341.05L479.24 337.30M499.66 341.05L499.66 333.95M499.66 341.05L503.83 335.31M499.66 341.05L506.41 338.86M499.66 341.05L506.41 343.24M499.66 341.05L503.83 346.79M499.66 341.05L499.66 348.15M499.66 341.05L495.49 346.79M499.66 341.05L492.91 343.24M499.66 341.05L492.91 338.86M499.66 341.05L495.49 335.31M527.50 341.05L527.50 333.55M527.50 341.05L535.00 341.05M527.50 341.05L527.50 348.55M527.50 341.05L520.00 341.05M541.42 341.05L541.42 333.95M541.42 341.05L544.50 334.65M541.42 341.05L546.97 336.62M541.42 341.05L548.34 339.47M541.42 341.05L548.34 342.63M541.42 341.05L546.97 345.48M541.42 341.05L544.50 347.45M541.42 341.05L541.42 348.15M541.42 341.05L538.34 347.45M541.42 341.05L535.87 345.48M541.42 341.05L534.50 342.63M541.42 341.05L534.50 339.47M541.42 341.05L535.87 336.62M541.42 341.05L538.34 334.65M569.26 341.05L569.26 333.95M569.26 341.05L571.98 334.49M569.26 341.05L574.28 336.03M569.26 341.05L575.82 338.33M569.26 341.05L576.36 341.05M569.26 341.05L575.82 343.77M569.26 341.05L574.28 346.07M569.26 341.05L571.98 347.61M569.26 341.05L569.26 348.15M569.26 341.05L566.54 347.61M569.26 341.05L564.24 346.07M569.26 341.05L562.70 343.77M569.26 341.05L562.16 341.05M569.26 341.05L562.70 338.33M569.26 341.05L564.24 336.03M569.26 341.05L566.54 334.49M583.18 341.05L583.18 333.55M583.18 341.05L590.31 338.73M583.18 341.05L587.59 347.12M583.18 341.05L578.77 347.12M583.18 341.05L576.05 338.73M597.10 341.05L597.10 333.55M597.10 341.05L603.60 344.80M597.10 341.05L590.60 344.80M548.38 353.10L548.38 345.60M548.38 353.10L555.51 350.78M548.38 353.10L552.79 359.17M548.38 353.10L543.97 359.17M548.38 353.10L541.25 350.78M562.30 353.10L562.30 346.00M562.30 353.10L566.47 347.36M562.30 353.10L569.05 350.91M562.30 353.10L569.05 355.29M562.30 353.10L566.47 358.84M562.30 353.10L562.30 360.20M562.30 353.10L558.13 358.84M562.30 353.10L555.55 355.29M562.30 353.10L555.55 350.91M562.30 353.10L558.13 347.36M576.22 353.10L576.22 346.00M576.22 353.10L579.77 346.95M576.22 353.10L582.37 349.55M576.22 353.10L583.32 353.10M576.22 353.10L582.37 356.65M576.22 353.10L579.77 359.25M576.22 353.10L576.22 360.20M576.22 353.10L572.67 359.25M576.22 353.10L570.07 356.65M576.22 353.10L569.12 353.10M576.22 353.10L570.07 349.55M576.22 353.10L572.67 346.95M590.14 353.10L590.14 345.60M590.14 353.10L596.64 356.85M590.14 353.10L583.64 356.85M569.26 365.15L569.26 357.65M569.26 365.15L576.76 365.15M569.26 365.15L569.26 372.65M569.26 365.15L561.76 365.15M562.30 377.20L562.30 369.70M562.30 377.20L568.80 380.95M562.30 377.20L555.80 380.95M471.82 413.35L471.82 405.85M471.82 413.35L478.95 411.03M471.82 413.35L476.23 419.42M471.82 413.35L467.41 419.42M471.82 413.35L464.69 411.03M499.66 413.35L499.66 405.85M499.66 413.35L506.16 417.10M499.66 413.35L493.16 417.10M541.42 413.35L541.42 405.85M541.42 413.35L548.92 413.35M541.42 413.35L541.42 420.85M541.42 413.35L533.92 413.35M409.18 425.40L409.18 417.90M409.18 425.40L415.68 429.15M409.18 425.40L402.68 429.15M423.10 425.40L423.10 418.30M423.10 425.40L428.12 420.38M423.10 425.40L430.20 425.40M423.10 425.40L428.12 430.42M423.10 425.40L423.10 432.50M423.10 425.40L418.08 430.42M423.10 425.40L416.00 425.40M423.10 425.40L418.08 420.38M437.02 425.40L437.02 417.90M437.02 425.40L444.52 425.40M437.02 425.40L437.02 432.90M437.02 425.40L429.52 425.40M450.94 425.40L450.94 417.90M450.94 425.40L458.07 423.08M450.94 425.40L455.35 431.47M450.94 425.40L446.53 431.47M450.94 425.40L443.81 423.08M464.86 425.40L464.86 418.30M464.86 425.40L469.88 420.38M464.86 425.40L471.96 425.40M464.86 425.40L469.88 430.42M464.86 425.40L464.86 432.50M464.86 425.40L459.84 430.42M464.86 425.40L457.76 425.40M464.86 425.40L459.84 420.38M478.78 425.40L478.78 417.90M478.78 425.40L485.28 429.15M478.78 425.40L472.28 429.15M506.62 425.40L506.62 417.90M506.62 425.40L513.12 429.15M506.62 425.40L500.12 429.15M520.54 425.40L520.54 417.90M520.54 425.40L528.04 425.40M520.54 425.40L520.54 432.90M520.54 425.40L513.04 425.40M534.46 425.40L534.46 417.90M534.46 425.40L541.96 425.40M534.46 425.40L534.46 432.90M534.46 425.40L526.96 425.40M548.38 425.40L548.38 417.90M548.38 425.40L554.88 421.65M548.38 425.40L554.88 429.15M548.38 425.40L548.38 432.90M548.38 425.40L541.88 429.15M548.38 425.40L541.88 421.65M562.30 425.40L562.30 417.90M562.30 425.40L568.80 429.15M562.30 425.40L555.80 429.15M151.66 437.45L151.66 429.95M151.66 437.45L158.16 441.20M151.66 437.45L145.16 441.20M179.50 437.45L179.50 429.95M179.50 437.45L186.00 441.20M179.50 437.45L173.00 441.20M193.42 437.45L193.42 429.95M193.42 437.45L200.55 435.13M193.42 437.45L197.83 443.52M193.42 437.45L189.01 443.52M193.42 437.45L186.29 435.13M207.34 437.45L207.34 429.95M207.34 437.45L213.84 433.70M207.34 437.45L213.84 441.20M207.34 437.45L207.34 444.95M207.34 437.45L200.84 441.20M207.34 437.45L200.84 433.70M221.26 437.45L221.26 429.95M221.26 437.45L227.76 433.70M221.26 437.45L227.76 441.20M221.26 437.45L221.26 444.95M221.26 437.45L214.76 441.20M221.26 437.45L214.76 433.70M235.18 437.45L235.18 429.95M235.18 437.45L241.68 441.20M235.18 437.45L228.68 441.20M249.10 437.45L249.10 429.95M249.10 437.45L256.60 437.45M249.10 437.45L249.10 444.95M249.10 437.45L241.60 437.45M263.02 437.45L263.02 430.35M263.02 437.45L266.57 431.30M263.02 437.45L269.17 433.90M263.02 437.45L270.12 437.45M263.02 437.45L269.17 441.00M263.02 437.45L266.57 443.60M263.02 437.45L263.02 444.55M263.02 437.45L259.47 443.60M263.02 437.45L256.87 441.00M263.02 437.45L255.92 437.45M263.02 437.45L256.87 433.90M263.02 437.45L259.47 431.30M276.94 437.45L276.94 430.35M276.94 437.45L281.11 431.71M276.94 437.45L283.69 435.26M276.94 437.45L283.69 439.64M276.94 437.45L281.11 443.19M276.94 437.45L276.94 444.55M276.94 437.45L272.77 443.19M276.94 437.45L270.19 439.64M276.94 437.45L270.19 435.26M276.94 437.45L272.77 431.71M290.86 437.45L290.86 429.95M290.86 437.45L297.36 441.20M290.86 437.45L284.36 441.20M304.78 437.45L304.78 430.35M304.78 437.45L308.33 431.30M304.78 437.45L310.93 433.90M304.78 437.45L311.88 437.45M304.78 437.45L310.93 441.00M304.78 437.45L308.33 443.60M304.78 437.45L304.78 444.55M304.78 437.45L301.23 443.60M304.78 437.45L298.63 441.00M304.78 437.45L297.68 437.45M304.78 437.45L298.63 433.90M304.78 437.45L301.23 431.30M318.70 437.45L318.70 429.95M318.70 437.45L325.20 433.70M318.70 437.45L325.20 441.20M318.70 437.45L318.70 444.95M318.70 437.45L312.20 441.20M318.70 437.45L312.20 433.70M332.62 437.45L332.62 430.35M332.62 437.45L336.17 431.30M332.62 437.45L338.77 433.90M332.62 437.45L339.72 437.45M332.62 437.45L338.77 441.00M332.62 437.45L336.17 443.60M332.62 437.45L332.62 444.55M332.62 437.45L329.07 443.60M332.62 437.45L326.47 441.00M332.62 437.45L325.52 437.45M332.62 437.45L326.47 433.90M332.62 437.45L329.07 431.30M346.54 437.45L346.54 429.95M346.54 437.45L353.04 441.20M346.54 437.45L340.04 441.20M360.46 437.45L360.46 429.95M360.46 437.45L367.59 435.13M360.46 437.45L364.87 443.52M360.46 437.45L356.05 443.52M360.46 437.45L353.33 435.13M374.38 437.45L374.38 429.95M374.38 437.45L381.51 435.13M374.38 437.45L378.79 443.52M374.38 437.45L369.97 443.52M374.38 437.45L367.25 435.13M388.30 437.45L388.30 429.95M388.30 437.45L395.80 437.45M388.30 437.45L388.30 444.95M388.30 437.45L380.80 437.45M144.70 449.50L144.70 442.00M144.70 449.50L151.20 453.25M144.70 449.50L138.20 453.25M158.62 449.50L158.62 442.40M158.62 449.50L163.18 444.06M158.62 449.50L165.61 448.27M158.62 449.50L164.77 453.05M158.62 449.50L161.05 456.17M158.62 449.50L156.19 456.17M158.62 449.50L152.47 453.05M158.62 449.50L151.63 448.27M158.62 449.50L154.06 444.06M172.54 449.50L172.54 442.40M172.54 449.50L177.10 444.06M172.54 449.50L179.53 448.27M172.54 449.50L178.69 453.05M172.54 449.50L174.97 456.17M172.54 449.50L170.11 456.17M172.54 449.50L166.39 453.05M172.54 449.50L165.55 448.27M172.54 449.50L167.98 444.06M186.46 449.50L186.46 442.40M186.46 449.50L191.02 444.06M186.46 449.50L193.45 448.27M186.46 449.50L192.61 453.05M186.46 449.50L188.89 456.17M186.46 449.50L184.03 456.17M186.46 449.50L180.31 453.05M186.46 449.50L179.47 448.27M186.46 449.50L181.90 444.06M645.82 449.50L645.82 442.40M645.82 449.50L649.37 443.35M645.82 449.50L651.97 445.95M645.82 449.50L652.92 449.50M645.82 449.50L651.97 453.05M645.82 449.50L649.37 455.65M645.82 449.50L645.82 456.60M645.82 449.50L642.27 455.65M645.82 449.50L639.67 453.05M645.82 449.50L638.72 449.50M645.82 449.50L639.67 445.95M645.82 449.50L642.27 443.35M332.62 461.55L332.62 454.05M332.62 461.55L339.12 465.30M332.62 461.55L326.12 465.30M346.54 461.55L346.54 454.05M346.54 461.55L353.04 465.30M346.54 461.55L340.04 465.30M416.14 461.55L416.14 454.05M416.14 461.55L422.64 465.30M416.14 461.55L409.64 465.30M430.06 461.55L430.06 454.05M430.06 461.55L436.56 457.80M430.06 461.55L436.56 465.30M430.06 461.55L430.06 469.05M430.06 461.55L423.56 465.30M430.06 461.55L423.56 457.80M443.98 461.55L443.98 454.05M443.98 461.55L451.11 459.23M443.98 461.55L448.39 467.62M443.98 461.55L439.57 467.62M443.98 461.55L436.85 459.23M457.90 461.55L457.90 454.05M457.90 461.55L464.40 457.80M457.90 461.55L464.40 465.30M457.90 461.55L457.90 469.05M457.90 461.55L451.40 465.30M457.90 461.55L451.40 457.80M471.82 461.55L471.82 454.45M471.82 461.55L474.54 454.99M471.82 461.55L476.84 456.53M471.82 461.55L478.38 458.83M471.82 461.55L478.92 461.55M471.82 461.55L478.38 464.27M471.82 461.55L476.84 466.57M471.82 461.55L474.54 468.11M471.82 461.55L471.82 468.65M471.82 461.55L469.10 468.11M471.82 461.55L466.80 466.57M471.82 461.55L465.26 464.27M471.82 461.55L464.72 461.55M471.82 461.55L465.26 458.83M471.82 461.55L466.80 456.53M471.82 461.55L469.10 454.99M485.74 461.55L485.74 454.45M485.74 461.55L488.46 454.99M485.74 461.55L490.76 456.53M485.74 461.55L492.30 458.83M485.74 461.55L492.84 461.55M485.74 461.55L492.30 464.27M485.74 461.55L490.76 466.57M485.74 461.55L488.46 468.11M485.74 461.55L485.74 468.65M485.74 461.55L483.02 468.11M485.74 461.55L480.72 466.57M485.74 461.55L479.18 464.27M485.74 461.55L478.64 461.55M485.74 461.55L479.18 458.83M485.74 461.55L480.72 456.53M485.74 461.55L483.02 454.99M513.58 461.55L513.58 454.45M513.58 461.55L516.30 454.99M513.58 461.55L518.60 456.53M513.58 461.55L520.14 458.83M513.58 461.55L520.68 461.55M513.58 461.55L520.14 464.27M513.58 461.55L518.60 466.57M513.58 461.55L516.30 468.11M513.58 461.55L513.58 468.65M513.58 461.55L510.86 468.11M513.58 461.55L508.56 466.57M513.58 461.55L507.02 464.27M513.58 461.55L506.48 461.55M513.58 461.55L507.02 458.83M513.58 461.55L508.56 456.53M513.58 461.55L510.86 454.99M638.86 461.55L638.86 454.45M638.86 461.55L642.41 455.40M638.86 461.55L645.01 458.00M638.86 461.55L645.96 461.55M638.86 461.55L645.01 465.10M638.86 461.55L642.41 467.70M638.86 461.55L638.86 468.65M638.86 461.55L635.31 467.70M638.86 461.55L632.71 465.10M638.86 461.55L631.76 461.55M638.86 461.55L632.71 458.00M638.86 461.55L635.31 455.40" fill="none" stroke="#8b4e12" stroke-width="1.65"/>
<path d="M513.58,92.01L520.54,96.03L520.54,104.07L513.58,108.09L506.62,104.07L506.62,96.03ZM506.62,104.06L513.58,108.08L513.58,116.12L506.62,120.14L499.66,116.12L499.66,108.08ZM541.42,116.11L548.38,120.13L548.38,128.17L541.42,132.19L534.46,128.17L534.46,120.13ZM569.26,116.11L576.22,120.13L576.22,128.17L569.26,132.19L562.30,128.17L562.30,120.13ZM513.58,212.51L520.54,216.53L520.54,224.57L513.58,228.59L506.62,224.57L506.62,216.53ZM527.50,212.51L534.46,216.53L534.46,224.57L527.50,228.59L520.54,224.57L520.54,216.53ZM513.58,333.01L520.54,337.03L520.54,345.07L513.58,349.09L506.62,345.07L506.62,337.03ZM555.34,333.01L562.30,337.03L562.30,345.07L555.34,349.09L548.38,345.07L548.38,337.03ZM402.22,429.41L409.18,433.43L409.18,441.47L402.22,445.49L395.26,441.47L395.26,433.43ZM416.14,429.41L423.10,433.43L423.10,441.47L416.14,445.49L409.18,441.47L409.18,433.43ZM430.06,429.41L437.02,433.43L437.02,441.47L430.06,445.49L423.10,441.47L423.10,433.43ZM443.98,429.41L450.94,433.43L450.94,441.47L443.98,445.49L437.02,441.47L437.02,433.43ZM457.90,429.41L464.86,433.43L464.86,441.47L457.90,445.49L450.94,441.47L450.94,433.43ZM471.82,429.41L478.78,433.43L478.78,441.47L471.82,445.49L464.86,441.47L464.86,433.43ZM485.74,429.41L492.70,433.43L492.70,441.47L485.74,445.49L478.78,441.47L478.78,433.43ZM499.66,429.41L506.62,433.43L506.62,441.47L499.66,445.49L492.70,441.47L492.70,433.43ZM513.58,429.41L520.54,433.43L520.54,441.47L513.58,445.49L506.62,441.47L506.62,433.43ZM527.50,429.41L534.46,433.43L534.46,441.47L527.50,445.49L520.54,441.47L520.54,433.43ZM541.42,429.41L548.38,433.43L548.38,441.47L541.42,445.49L534.46,441.47L534.46,433.43ZM555.34,429.41L562.30,433.43L562.30,441.47L555.34,445.49L548.38,441.47L548.38,433.43ZM569.26,429.41L576.22,433.43L576.22,441.47L569.26,445.49L562.30,441.47L562.30,433.43ZM200.38,441.46L207.34,445.48L207.34,453.52L200.38,457.54L193.42,453.52L193.42,445.48ZM214.30,441.46L221.26,445.48L221.26,453.52L214.30,457.54L207.34,453.52L207.34,445.48ZM228.22,441.46L235.18,445.48L235.18,453.52L228.22,457.54L221.26,453.52L221.26,445.48ZM242.14,441.46L249.10,445.48L249.10,453.52L242.14,457.54L235.18,453.52L235.18,445.48ZM256.06,441.46L263.02,445.48L263.02,453.52L256.06,457.54L249.10,453.52L249.10,445.48ZM269.98,441.46L276.94,445.48L276.94,453.52L269.98,457.54L263.02,453.52L263.02,445.48ZM283.90,441.46L290.86,445.48L290.86,453.52L283.90,457.54L276.94,453.52L276.94,445.48ZM297.82,441.46L304.78,445.48L304.78,453.52L297.82,457.54L290.86,453.52L290.86,445.48ZM311.74,441.46L318.70,445.48L318.70,453.52L311.74,457.54L304.78,453.52L304.78,445.48ZM325.66,441.46L332.62,445.48L332.62,453.52L325.66,457.54L318.70,453.52L318.70,445.48ZM339.58,441.46L346.54,445.48L346.54,453.52L339.58,457.54L332.62,453.52L332.62,445.48ZM353.50,441.46L360.46,445.48L360.46,453.52L353.50,457.54L346.54,453.52L346.54,445.48ZM367.42,441.46L374.38,445.48L374.38,453.52L367.42,457.54L360.46,453.52L360.46,445.48ZM381.34,441.46L388.30,445.48L388.30,453.52L381.34,457.54L374.38,453.52L374.38,445.48ZM395.26,441.46L402.22,445.48L402.22,453.52L395.26,457.54L388.30,453.52L388.30,445.48ZM409.18,441.46L416.14,445.48L416.14,453.52L409.18,457.54L402.22,453.52L402.22,445.48ZM423.10,441.46L430.06,445.48L430.06,453.52L423.10,457.54L416.14,453.52L416.14,445.48ZM437.02,441.46L443.98,445.48L443.98,453.52L437.02,457.54L430.06,453.52L430.06,445.48ZM450.94,441.46L457.90,445.48L457.90,453.52L450.94,457.54L443.98,453.52L443.98,445.48ZM464.86,441.46L471.82,445.48L471.82,453.52L464.86,457.54L457.90,453.52L457.90,445.48ZM478.78,441.46L485.74,445.48L485.74,453.52L478.78,457.54L471.82,453.52L471.82,445.48ZM492.70,441.46L499.66,445.48L499.66,453.52L492.70,457.54L485.74,453.52L485.74,445.48ZM506.62,441.46L513.58,445.48L513.58,453.52L506.62,457.54L499.66,453.52L499.66,445.48ZM520.54,441.46L527.50,445.48L527.50,453.52L520.54,457.54L513.58,453.52L513.58,445.48ZM534.46,441.46L541.42,445.48L541.42,453.52L534.46,457.54L527.50,453.52L527.50,445.48ZM548.38,441.46L555.34,445.48L555.34,453.52L548.38,457.54L541.42,453.52L541.42,445.48ZM562.30,441.46L569.26,445.48L569.26,453.52L562.30,457.54L555.34,453.52L555.34,445.48ZM576.22,441.46L583.18,445.48L583.18,453.52L576.22,457.54L569.26,453.52L569.26,445.48ZM590.14,441.46L597.10,445.48L597.10,453.52L590.14,457.54L583.18,453.52L583.18,445.48ZM604.06,441.46L611.02,445.48L611.02,453.52L604.06,457.54L597.10,453.52L597.10,445.48ZM617.98,441.46L624.94,445.48L624.94,453.52L617.98,457.54L611.02,453.52L611.02,445.48ZM631.90,441.46L638.86,445.48L638.86,453.52L631.90,457.54L624.94,453.52L624.94,445.48ZM499.66,453.51L506.62,457.53L506.62,465.57L499.66,469.59L492.70,465.57L492.70,457.53ZM527.50,453.51L534.46,457.53L534.46,465.57L527.50,469.59L520.54,465.57L520.54,457.53ZM541.42,453.51L548.38,457.53L548.38,465.57L541.42,469.59L534.46,465.57L534.46,457.53ZM555.34,453.51L562.30,457.53L562.30,465.57L555.34,469.59L548.38,465.57L548.38,457.53ZM569.26,453.51L576.22,457.53L576.22,465.57L569.26,469.59L562.30,465.57L562.30,457.53ZM583.18,453.51L590.14,457.53L590.14,465.57L583.18,469.59L576.22,465.57L576.22,457.53ZM597.10,453.51L604.06,457.53L604.06,465.57L597.10,469.59L590.14,465.57L590.14,457.53ZM611.02,453.51L617.98,457.53L617.98,465.57L611.02,469.59L604.06,465.57L604.06,457.53ZM624.94,453.51L631.90,457.53L631.90,465.57L624.94,469.59L617.98,465.57L617.98,457.53Z" fill="#f38222"/>
<path d="M513.58 100.05L513.58 92.55M506.62 112.10L506.62 104.60M541.42 124.15L541.42 116.65M569.26 124.15L569.26 116.65M513.58 220.55L513.58 213.05M527.50 220.55L527.50 213.05M513.58 341.05L513.58 333.55M555.34 341.05L555.34 333.55M402.22 437.45L402.22 429.95M416.14 437.45L416.14 429.95M430.06 437.45L430.06 429.95M443.98 437.45L443.98 429.95M457.90 437.45L457.90 429.95M471.82 437.45L471.82 429.95M485.74 437.45L485.74 429.95M485.74 437.45L485.74 444.95M499.66 437.45L499.66 429.95M513.58 437.45L513.58 429.95M527.50 437.45L527.50 429.95M541.42 437.45L541.42 429.95M555.34 437.45L555.34 429.95M569.26 437.45L569.26 429.95M200.38 449.50L200.38 442.00M214.30 449.50L214.30 442.00M228.22 449.50L228.22 442.00M242.14 449.50L242.14 442.00M256.06 449.50L256.06 442.00M269.98 449.50L269.98 442.00M269.98 449.50L269.98 457.00M283.90 449.50L283.90 442.00M297.82 449.50L297.82 442.00M297.82 449.50L297.82 457.00M311.74 449.50L311.74 442.00M325.66 449.50L325.66 442.00M325.66 449.50L325.66 457.00M339.58 449.50L339.58 442.00M339.58 449.50L339.58 457.00M353.50 449.50L353.50 442.00M353.50 449.50L353.50 457.00M367.42 449.50L367.42 442.00M381.34 449.50L381.34 442.00M395.26 449.50L395.26 442.00M409.18 449.50L409.18 442.00M423.10 449.50L423.10 442.00M423.10 449.50L429.60 453.25M423.10 449.50L416.60 453.25M437.02 449.50L437.02 442.00M437.02 449.50L444.15 447.18M437.02 449.50L441.43 455.57M437.02 449.50L432.61 455.57M437.02 449.50L429.89 447.18M450.94 449.50L450.94 442.00M450.94 449.50L458.44 449.50M450.94 449.50L450.94 457.00M450.94 449.50L443.44 449.50M464.86 449.50L464.86 442.00M464.86 449.50L472.36 449.50M464.86 449.50L464.86 457.00M464.86 449.50L457.36 449.50M562.30 449.50L562.30 442.00M562.30 449.50L568.80 445.75M562.30 449.50L568.80 453.25M562.30 449.50L562.30 457.00M562.30 449.50L555.80 453.25M562.30 449.50L555.80 445.75M576.22 449.50L576.22 442.00M576.22 449.50L583.72 449.50M576.22 449.50L576.22 457.00M576.22 449.50L568.72 449.50M590.14 449.50L590.14 442.00M590.14 449.50L596.64 453.25M590.14 449.50L583.64 453.25M604.06 449.50L604.06 442.00M604.06 449.50L604.06 457.00M617.98 449.50L617.98 442.00M631.90 449.50L631.90 442.00M499.66 461.55L499.66 454.05M527.50 461.55L527.50 454.05M541.42 461.55L541.42 454.05M541.42 461.55L541.42 469.05M555.34 461.55L555.34 454.05M569.26 461.55L569.26 454.05M583.18 461.55L583.18 454.05M597.10 461.55L597.10 454.05M611.02 461.55L611.02 454.05M624.94 461.55L624.94 454.05" fill="none" stroke="#0a0a0a" stroke-width="1.9"/>
<path d="M478.78 449.50L478.78 442.40M478.78 449.50L483.80 444.48M478.78 449.50L485.88 449.50M478.78 449.50L483.80 454.52M478.78 449.50L478.78 456.60M478.78 449.50L473.76 454.52M478.78 449.50L471.68 449.50M478.78 449.50L473.76 444.48M492.70 449.50L492.70 442.40M492.70 449.50L496.25 443.35M492.70 449.50L498.85 445.95M492.70 449.50L499.80 449.50M492.70 449.50L498.85 453.05M492.70 449.50L496.25 455.65M492.70 449.50L492.70 456.60M492.70 449.50L489.15 455.65M492.70 449.50L486.55 453.05M492.70 449.50L485.60 449.50M492.70 449.50L486.55 445.95M492.70 449.50L489.15 443.35M506.62 449.50L506.62 442.40M506.62 449.50L510.17 443.35M506.62 449.50L512.77 445.95M506.62 449.50L513.72 449.50M506.62 449.50L512.77 453.05M506.62 449.50L510.17 455.65M506.62 449.50L506.62 456.60M506.62 449.50L503.07 455.65M506.62 449.50L500.47 453.05M506.62 449.50L499.52 449.50M506.62 449.50L500.47 445.95M506.62 449.50L503.07 443.35M520.54 449.50L520.54 442.40M520.54 449.50L523.62 443.10M520.54 449.50L526.09 445.07M520.54 449.50L527.46 447.92M520.54 449.50L527.46 451.08M520.54 449.50L526.09 453.93M520.54 449.50L523.62 455.90M520.54 449.50L520.54 456.60M520.54 449.50L517.46 455.90M520.54 449.50L514.99 453.93M520.54 449.50L513.62 451.08M520.54 449.50L513.62 447.92M520.54 449.50L514.99 445.07M520.54 449.50L517.46 443.10M534.46 449.50L534.46 442.40M534.46 449.50L537.54 443.10M534.46 449.50L540.01 445.07M534.46 449.50L541.38 447.92M534.46 449.50L541.38 451.08M534.46 449.50L540.01 453.93M534.46 449.50L537.54 455.90M534.46 449.50L534.46 456.60M534.46 449.50L531.38 455.90M534.46 449.50L528.91 453.93M534.46 449.50L527.54 451.08M534.46 449.50L527.54 447.92M534.46 449.50L528.91 445.07M534.46 449.50L531.38 443.10M548.38 449.50L548.38 442.40M548.38 449.50L552.55 443.76M548.38 449.50L555.13 447.31M548.38 449.50L555.13 451.69M548.38 449.50L552.55 455.24M548.38 449.50L548.38 456.60M548.38 449.50L544.21 455.24M548.38 449.50L541.63 451.69M548.38 449.50L541.63 447.31M548.38 449.50L544.21 443.76" fill="none" stroke="#0a0a0a" stroke-width="1.6"/>
<path d="M66.2 2.6V491.8H749.5M79.5 491.8V500.6M161.6 491.8V500.6M243.6 491.8V500.6M325.7 491.8V500.6M407.7 491.8V500.6M489.8 491.8V500.6M571.9 491.8V500.6M653.9 491.8V500.6M736.0 491.8V500.6M66.2 459.8H57.6M66.2 371.0H57.6M66.2 282.2H57.6M66.2 193.3H57.6M66.2 104.5H57.6M66.2 15.7H57.6" fill="none" stroke="#2a2a2a" stroke-width="1.5"/>
</g>
<text x="79.5" y="523.6" font-size="21.4" text-anchor="middle">0</text>
<text x="161.6" y="523.6" font-size="21.4" text-anchor="middle">0.2</text>
<text x="243.6" y="523.6" font-size="21.4" text-anchor="middle">0.4</text>
<text x="325.7" y="523.6" font-size="21.4" text-anchor="middle">0.6</text>
<text x="407.7" y="523.6" font-size="21.4" text-anchor="middle">0.8</text>
<text x="489.8" y="523.6" font-size="21.4" text-anchor="middle">1.0</text>
<text x="571.9" y="523.6" font-size="21.4" text-anchor="middle">1.2</text>
<text x="653.9" y="523.6" font-size="21.4" text-anchor="middle">1.4</text>
<text x="736.0" y="523.6" font-size="21.4" text-anchor="middle">1.6</text>
<text x="53.7" y="467.6" font-size="21.4" text-anchor="end">0</text>
<text x="53.7" y="378.8" font-size="21.4" text-anchor="end">.2</text>
<text x="53.7" y="290.0" font-size="21.4" text-anchor="end">.4</text>
<text x="53.7" y="201.1" font-size="21.4" text-anchor="end">.6</text>
<text x="53.7" y="112.3" font-size="21.4" text-anchor="end">.8</text>
<text x="53.7" y="23.5" font-size="21.4" text-anchor="end">1</text>
<text x="407.9" y="551" font-size="21.2" textLength="227.5" lengthAdjust="spacing" text-anchor="middle">Digital Financial Inclusion</text>
<text transform="translate(19.8 246.3) rotate(-90)" font-size="21" textLength="257.5" lengthAdjust="spacing" text-anchor="middle">Ecological Environment Index</text>
<g filter="url(#soft)">
<circle cx="788.9" cy="209.8" r="3.3" fill="none" stroke="#1414f5" stroke-width="2.1"/>
<path d="M788.90,229.70L796.78,234.25L796.78,243.35L788.90,247.90L781.02,243.35L781.02,234.25Z" fill="#e2f7ac"/><path d="M788.90 238.40L788.90 230.00M788.90 238.40L796.17 242.60M788.90 238.40L781.63 242.60" stroke="#8b4e12" stroke-width="1.7" fill="none"/>
<path d="M788.90,258.80L796.78,263.35L796.78,272.45L788.90,277.00L781.02,272.45L781.02,263.35Z" fill="#f38222"/><path d="M788.90 267.50L788.90 259.10M788.90 267.50L796.17 271.70M788.90 267.50L781.63 271.70" stroke="#0a0a0a" stroke-width="1.8" fill="none"/>
</g>
<text x="811.2" y="216.3" font-size="21.3" textLength="89.8" lengthAdjust="spacing">Single obs</text>
<text x="811.2" y="245.3" font-size="21.3" textLength="124.5" lengthAdjust="spacing">1 petal = 1 obs</text>
<text x="811.2" y="274.9" font-size="21.3" textLength="135.4" lengthAdjust="spacing">1 petal = 41 obs</text>
</svg></body></html>
